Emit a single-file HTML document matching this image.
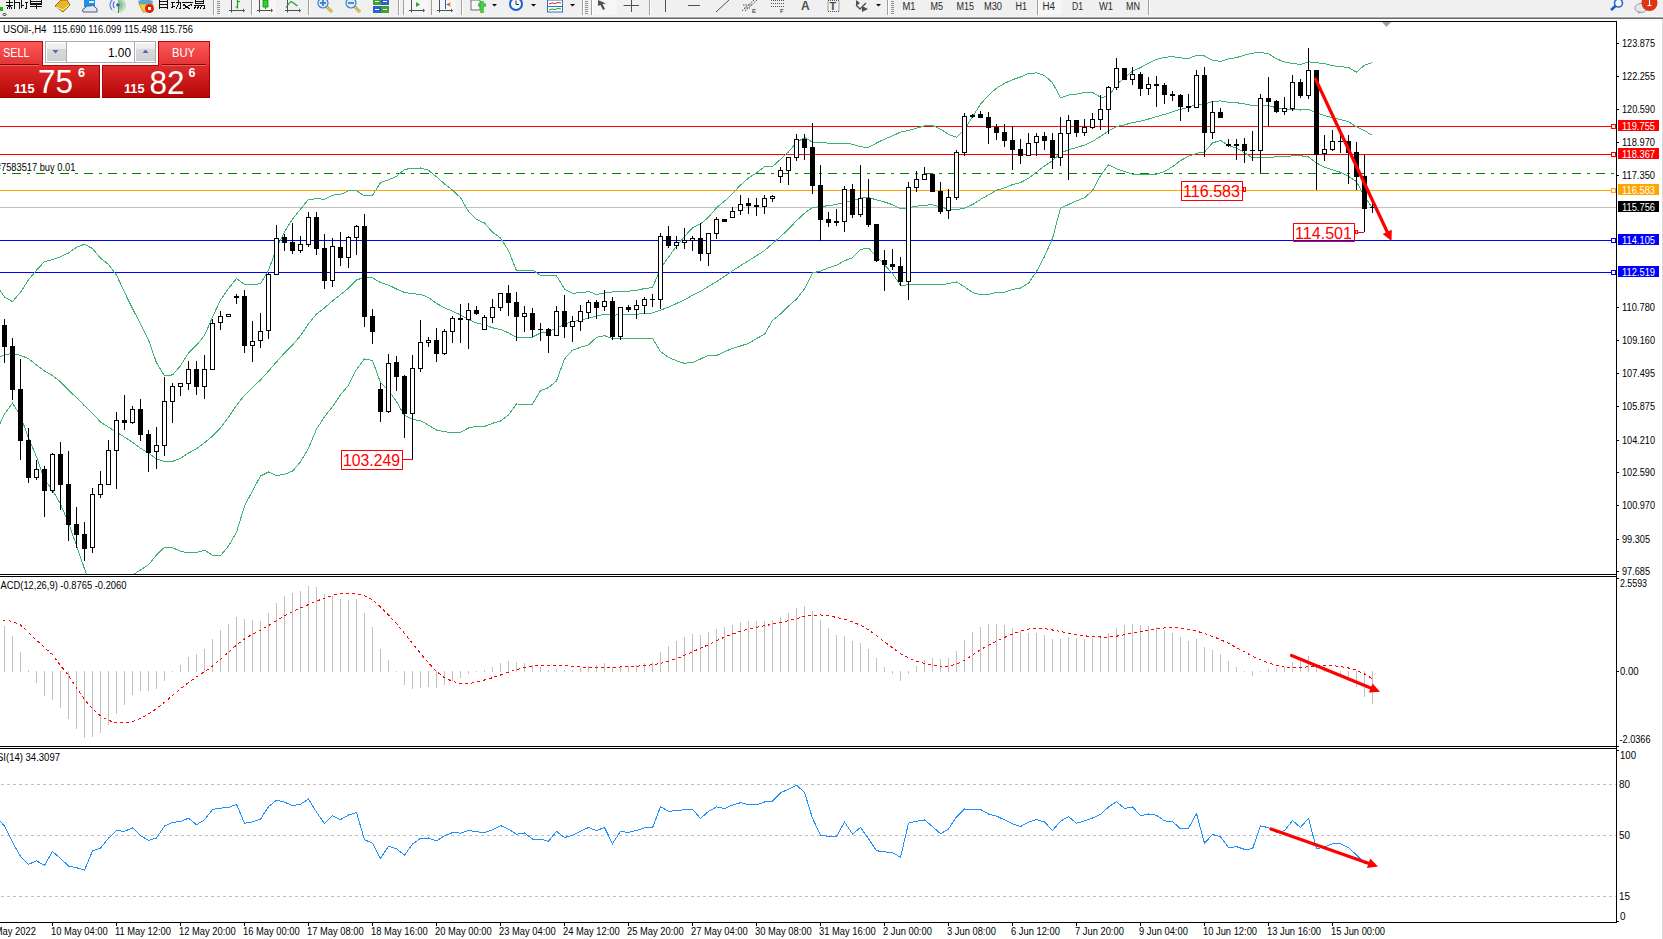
<!DOCTYPE html><html><head><meta charset='utf-8'><style>
html,body{margin:0;padding:0;background:#fff;width:1663px;height:939px;overflow:hidden}
svg{display:block}
text{font-family:'Liberation Sans',sans-serif}
</style></head><body>
<svg width='1663' height='939' viewBox='0 0 1663 939'>
<defs>
<clipPath id='main'><rect x='0' y='22' width='1616' height='552'/></clipPath>
<clipPath id='macd'><rect x='0' y='577' width='1616' height='169'/></clipPath>
<clipPath id='rsi'><rect x='0' y='749' width='1616' height='173'/></clipPath>
<linearGradient id='tabg' x1='0' y1='0' x2='0' y2='1'><stop offset='0' stop-color='#ff5a5a'/><stop offset='1' stop-color='#e23434'/></linearGradient>
<linearGradient id='boxg' x1='0' y1='0' x2='0' y2='1'><stop offset='0' stop-color='#e02c2c'/><stop offset='1' stop-color='#b40606'/></linearGradient>
<linearGradient id='btng' x1='0' y1='0' x2='0' y2='1'><stop offset='0' stop-color='#f2f2f2'/><stop offset='0.35' stop-color='#ebebeb'/><stop offset='0.36' stop-color='#d9d9d9'/><stop offset='1' stop-color='#d0d0d0'/></linearGradient>
</defs>
<rect x='0' y='0' width='1663' height='17' fill='#f0f0f0'/>
<rect x='0' y='16' width='1663' height='1' fill='#f5f5f5'/>
<rect x='0' y='17' width='1663' height='1' fill='#a6a6a6'/>
<rect x='0' y='18' width='1663' height='1' fill='#6a6a6a'/>
<rect x='0' y='19' width='1663' height='2' fill='#fbfbfb'/>
<rect x='0' y='21' width='1617' height='1' fill='#000'/>
<rect x='1662' y='19' width='1' height='920' fill='#d8d8d8'/>
<rect x='0' y='7' width='3' height='4' fill='#10c010'/>
<path d='M4.5 13 L6 14.5 L4.5 16 L3 14.5 Z' fill='none' stroke='#000' stroke-width='0.9'/>
<g stroke='#101010' stroke-width='1' fill='none' shape-rendering='crispEdges'><path d='M6 2.5 H13 M6 5.5 H13 M9.5 0 V9 M7 8.5 L9 6 M12 8.5 L10 6'/><path d='M13.5 2.5 H20 M14.5 0 V8.5 M19.5 2.5 V8.5'/><path d='M21.5 0 V8 M22 5 L24 6 M25 2.5 H28 M26.5 2.5 V8.5 H24.5'/><path d='M30.5 0 V4.5 H41.5 V0 M30.5 1.5 H41.5 M30.5 3 H41.5 M30 6.5 H42 M36 4.5 V9'/></g>
<path d='M55 6 L61 0 L67 0 L70 5 L63 12 Z' fill='#e8b52a' stroke='#9a6a10' stroke-width='1'/>
<path d='M56 7 L63 10 L69 5' fill='none' stroke='#fff3b0' stroke-width='1'/>
<rect x='84' y='0' width='11' height='7' fill='#1e90ea'/>
<rect x='89' y='1' width='5' height='2' fill='#d8eefc'/>
<path d='M83 12 Q81 9 85 8 Q86 5 90 6 Q93 4 95 7 Q98 8 97 12 Z' fill='#e2e8f2' stroke='#4a5a90' stroke-width='1'/>
<circle cx='118' cy='5' r='7.5' fill='none' stroke='#c8d8f0' stroke-width='1'/>
<path d='M118 -2.5 A7.5 7.5 0 0 1 118 12.5 Z' fill='#b8dcb8'/>
<path d='M118 0 A5 5 0 0 1 118 10 Z' fill='#90c890'/>
<g fill='none' stroke-width='1.1'><path d='M112 10 A7.5 7.5 0 0 1 113 -1' stroke='#5a86e0'/><path d='M114.5 8 A4.5 4.5 0 0 1 114.5 1.5' stroke='#3a6ad8'/></g>
<circle cx='118' cy='5' r='1.8' fill='#2a5ad0'/>
<rect x='118' y='5' width='1' height='8' fill='#20a020'/>
<path d='M138 1 Q145 -2 153 1 L152 4 Q145 6 139 4 Z' fill='#5aa8d8'/>
<path d='M139 4 L153 4 L147 12 L143 12 Z' fill='#f0d040' stroke='#c09020' stroke-width='0.8'/>
<circle cx='149.5' cy='8.5' r='4.5' fill='#e02010'/>
<rect x='148' y='7' width='3' height='3' fill='#fff'/>
<g stroke='#101010' stroke-width='1' fill='none' shape-rendering='crispEdges'><path d='M159.5 0 V9 M167.5 0 V9 M159.5 1.5 H167.5 M159.5 4.5 H167.5 M159.5 7.5 H167.5'/><path d='M171 2.5 H175 M171 8 L175 6 M173 3 L172 7 M176 2.5 H181 M180.5 2.5 V8.5 H179 M178 0 V5 L176 9'/><path d='M182 2.5 H193 M184.5 4 L183 6 M190.5 4 L192 6 M184 5 L190 9 M190 5 L183 9'/><path d='M195.5 0 V3.5 H203.5 V0 M195.5 1.5 H203.5 M194 5 H204 V8.5 H202.5 M197 5 L194 9 M199.5 5 L197 9 M202 5 L200 9'/></g>
<g shape-rendering='crispEdges'>
<rect x='213' y='0' width='1' height='15' fill='#a0a0a0'/><rect x='214' y='0' width='1' height='15' fill='#ffffff'/>
<rect x='217' y='1' width='3' height='1' fill='#909090'/>
<rect x='217' y='3' width='3' height='1' fill='#909090'/>
<rect x='217' y='5' width='3' height='1' fill='#909090'/>
<rect x='217' y='7' width='3' height='1' fill='#909090'/>
<rect x='217' y='9' width='3' height='1' fill='#909090'/>
<rect x='217' y='11' width='3' height='1' fill='#909090'/>
<rect x='217' y='13' width='3' height='1' fill='#909090'/>
<rect x='251' y='0' width='1' height='15' fill='#a0a0a0'/><rect x='252' y='0' width='1' height='15' fill='#ffffff'/>
<rect x='308' y='0' width='1' height='15' fill='#a0a0a0'/><rect x='309' y='0' width='1' height='15' fill='#ffffff'/>
<rect x='398' y='0' width='1' height='15' fill='#a0a0a0'/><rect x='399' y='0' width='1' height='15' fill='#ffffff'/>
<rect x='403' y='0' width='1' height='15' fill='#a0a0a0'/><rect x='404' y='0' width='1' height='15' fill='#ffffff'/>
<rect x='431' y='0' width='1' height='15' fill='#a0a0a0'/><rect x='432' y='0' width='1' height='15' fill='#ffffff'/>
<rect x='461' y='0' width='1' height='15' fill='#a0a0a0'/><rect x='462' y='0' width='1' height='15' fill='#ffffff'/>
<rect x='582' y='0' width='1' height='15' fill='#a0a0a0'/><rect x='583' y='0' width='1' height='15' fill='#ffffff'/>
<rect x='585' y='1' width='3' height='1' fill='#909090'/>
<rect x='585' y='3' width='3' height='1' fill='#909090'/>
<rect x='585' y='5' width='3' height='1' fill='#909090'/>
<rect x='585' y='7' width='3' height='1' fill='#909090'/>
<rect x='585' y='9' width='3' height='1' fill='#909090'/>
<rect x='585' y='11' width='3' height='1' fill='#909090'/>
<rect x='585' y='13' width='3' height='1' fill='#909090'/>
<rect x='591' y='0' width='1' height='15' fill='#a0a0a0'/><rect x='592' y='0' width='1' height='15' fill='#ffffff'/>
<rect x='649' y='0' width='1' height='15' fill='#a0a0a0'/><rect x='650' y='0' width='1' height='15' fill='#ffffff'/>
<rect x='887' y='0' width='1' height='15' fill='#a0a0a0'/><rect x='888' y='0' width='1' height='15' fill='#ffffff'/>
<rect x='891' y='1' width='3' height='1' fill='#909090'/>
<rect x='891' y='3' width='3' height='1' fill='#909090'/>
<rect x='891' y='5' width='3' height='1' fill='#909090'/>
<rect x='891' y='7' width='3' height='1' fill='#909090'/>
<rect x='891' y='9' width='3' height='1' fill='#909090'/>
<rect x='891' y='11' width='3' height='1' fill='#909090'/>
<rect x='891' y='13' width='3' height='1' fill='#909090'/>
<rect x='1037' y='0' width='1' height='15' fill='#a0a0a0'/><rect x='1038' y='0' width='1' height='15' fill='#ffffff'/>
<rect x='1148' y='0' width='1' height='15' fill='#a0a0a0'/><rect x='1149' y='0' width='1' height='15' fill='#ffffff'/>
<rect x='253' y='0' width='23' height='15' fill='#f6f6f6'/>
<rect x='404' y='0' width='24' height='15' fill='#f6f6f6'/>
<rect x='432' y='0' width='24' height='15' fill='#f6f6f6'/>
<rect x='593' y='0' width='24' height='15' fill='#f6f6f6'/>
<rect x='1039' y='0' width='23' height='15' fill='#f6f6f6'/>
</g>
<g stroke='#505050' stroke-width='1' fill='none'><path d='M231.5 0 V12.5 M229 10.5 H243'/></g><path d='M243 8.5 L245 10.5 L243 12.5 Z' fill='#505050'/>
<path d='M237.5 0 V8.5 M235.5 7 H237.5 M237.5 1.5 H240' stroke='#10a010' fill='none' stroke-width='1.2'/>
<g stroke='#505050' stroke-width='1' fill='none'><path d='M259.5 0 V12.5 M257 10.5 H271'/></g><path d='M271 8.5 L273 10.5 L271 12.5 Z' fill='#505050'/>
<rect x='263' y='0' width='5' height='7' fill='#30d030' stroke='#109010' stroke-width='0.8'/><rect x='265' y='7' width='1' height='2' fill='#109010'/>
<g stroke='#505050' stroke-width='1' fill='none'><path d='M287.5 0 V12.5 M285 10.5 H299'/></g><path d='M299 8.5 L301 10.5 L299 12.5 Z' fill='#505050'/>
<path d='M286 7.5 Q291 0 292 2 Q295 4 297.5 6' stroke='#20a020' fill='none' stroke-width='1.2'/>
<line x1='327' y1='7' x2='332' y2='12' stroke='#b08a10' stroke-width='2.6'/>
<line x1='327' y1='7' x2='332' y2='12' stroke='#f0d860' stroke-width='1.2'/>
<circle cx='323' cy='3' r='5' fill='#d8ecfa' stroke='#3a80d0' stroke-width='1.2'/>
<rect x='320' y='2.2' width='6' height='1.6' fill='#3a70c0'/>
<rect x='322.2' y='0' width='1.6' height='6' fill='#3a70c0'/>
<line x1='355' y1='7' x2='360' y2='12' stroke='#b08a10' stroke-width='2.6'/>
<line x1='355' y1='7' x2='360' y2='12' stroke='#f0d860' stroke-width='1.2'/>
<circle cx='351' cy='3' r='5' fill='#d8ecfa' stroke='#3a80d0' stroke-width='1.2'/>
<rect x='348' y='2.2' width='6' height='1.6' fill='#3a70c0'/>
<g shape-rendering='crispEdges'><rect x='373' y='0' width='7.5' height='5' fill='#40a030'/><rect x='381' y='0' width='8' height='5' fill='#3060d0'/><rect x='373' y='6' width='7.5' height='7' fill='#3060d0'/><rect x='381' y='6' width='8' height='7' fill='#40a030'/><rect x='375' y='1' width='4' height='1' fill='#fff'/><rect x='383' y='1' width='4' height='1' fill='#fff'/><rect x='375' y='9' width='4' height='1' fill='#fff'/><rect x='383' y='9' width='4' height='1' fill='#fff'/></g>
<g stroke='#505050' stroke-width='1' fill='none'><path d='M411.5 0 V12.5 M409 10.5 H423'/></g><path d='M423 8.5 L425 10.5 L423 12.5 Z' fill='#505050'/>
<path d='M416 2 L420 4.5 L416 7 Z' fill='#20b020'/>
<g stroke='#505050' stroke-width='1' fill='none'><path d='M439.5 0 V12.5 M437 10.5 H451'/></g><path d='M451 8.5 L453 10.5 L451 12.5 Z' fill='#505050'/>
<rect x='445' y='0' width='1' height='9' fill='#2060b0'/><path d='M446 4.5 L451 2.5 L449.5 4.5 L451 6.5 Z' fill='#e04010'/>
<rect x='471' y='0' width='9' height='10' fill='#f8f8f8' stroke='#707070' stroke-width='1'/>
<path d='M478 5 H486 M482 1 V13' stroke='#10b010' stroke-width='3.2'/>
<path d='M478 5 H486 M482 1 V13' stroke='#60e060' stroke-width='1.2'/>
<path d='M492 4 L497 4 L494.5 6.5 Z' fill='#000'/>
<path d='M531 4 L536 4 L533.5 6.5 Z' fill='#000'/>
<path d='M570 4 L575 4 L572.5 6.5 Z' fill='#000'/>
<path d='M876 4 L881 4 L878.5 6.5 Z' fill='#000'/>
<circle cx='516' cy='4' r='7' fill='#1a66c8'/><circle cx='516' cy='4' r='5' fill='#f4f8fc'/>
<path d='M516 0.5 V4.5 H519' stroke='#333' stroke-width='1' fill='none'/>
<rect x='547.5' y='0' width='15' height='12' fill='#fff' stroke='#3070c0' stroke-width='1'/>
<rect x='548' y='6' width='14' height='1' fill='#3070c0'/>
<path d='M549 4 L552 3 L555 3.5 L558 2.5 L561 3' stroke='#c03020' fill='none' stroke-width='1'/>
<path d='M549 10 L552 9 L555 9.5 L558 8.5 L561 9' stroke='#20a020' fill='none' stroke-width='1'/>
<path d='M598 0 L598 6 L600.5 5 L603 10 L605 9 L602.5 4 L606 3.5 Z' fill='#505050'/>
<path d='M623.5 5.5 H639 M631.5 0 V12' stroke='#505050' stroke-width='1' fill='none'/>
<g stroke='#505050' stroke-width='1' fill='none'><path d='M665.5 0 V12 M688 5.5 H700 M716 12 L729 0'/><path d='M742 11 L754 0 M745 11 L757 0 M743 5 L752 5 M744 8 L750 8' stroke-dasharray='1.5 1'/><path d='M771 0.5 H785 M771 3.5 H785 M771 6.5 H785' stroke-dasharray='1 1'/><rect x='828' y='0.5' width='11' height='11' stroke-dasharray='1 1'/></g>
<text x='752' y='13' font-size='6' font-weight='bold' fill='#505050' font-family="'Liberation Sans',sans-serif">E</text>
<text x='780' y='13' font-size='6' font-weight='bold' fill='#505050' font-family="'Liberation Sans',sans-serif">F</text>
<text x='801' y='10' font-size='12' font-weight='bold' fill='#505050' font-family="'Liberation Sans',sans-serif">A</text>
<text x='829.5' y='10' font-size='11' font-weight='bold' fill='#505050' font-family="'Liberation Sans',sans-serif">T</text>
<path d='M856 0 L860 3 L856 6 Z M862 6 L868 9 L862 12 Z' fill='#505050'/>
<path d='M856 5 L860 9 L866 3' stroke='#505050' fill='none' stroke-width='1.4'/>
<circle cx='1618.5' cy='3' r='4' fill='#f4f8ff' stroke='#2a68d0' stroke-width='1.6'/>
<line x1='1615.5' y1='6' x2='1611' y2='10' stroke='#1a58c8' stroke-width='2.4'/>
<ellipse cx='1641' cy='8' rx='6' ry='4.5' fill='#e4e6ee' stroke='#9a9a9a' stroke-width='1'/>
<path d='M1638 11.5 L1638.5 14 L1641 12' fill='#9a9a9a'/>
<circle cx='1649.5' cy='3' r='8' fill='#dd3414'/>
<path d='M1649.5 -3 V5.5 M1647.5 5.5 H1651.5 M1648 -1.5 L1649.5 -3' stroke='#fff' stroke-width='1.1' fill='none'/>
<text x='902.5' y='9.5' font-size='10' fill='#2a2a2a' textLength='13.00' lengthAdjust='spacingAndGlyphs' text-anchor='start' font-family="'Liberation Sans',sans-serif">M1</text>
<text x='930.5' y='9.5' font-size='10' fill='#2a2a2a' textLength='12.50' lengthAdjust='spacingAndGlyphs' text-anchor='start' font-family="'Liberation Sans',sans-serif">M5</text>
<text x='956.5' y='9.5' font-size='10' fill='#2a2a2a' textLength='17.50' lengthAdjust='spacingAndGlyphs' text-anchor='start' font-family="'Liberation Sans',sans-serif">M15</text>
<text x='984' y='9.5' font-size='10' fill='#2a2a2a' textLength='18.00' lengthAdjust='spacingAndGlyphs' text-anchor='start' font-family="'Liberation Sans',sans-serif">M30</text>
<text x='1015.5' y='9.5' font-size='10' fill='#2a2a2a' textLength='11.50' lengthAdjust='spacingAndGlyphs' text-anchor='start' font-family="'Liberation Sans',sans-serif">H1</text>
<text x='1042.5' y='9.5' font-size='10' fill='#2a2a2a' textLength='12.50' lengthAdjust='spacingAndGlyphs' text-anchor='start' font-family="'Liberation Sans',sans-serif">H4</text>
<text x='1072' y='9.5' font-size='10' fill='#2a2a2a' textLength='11.00' lengthAdjust='spacingAndGlyphs' text-anchor='start' font-family="'Liberation Sans',sans-serif">D1</text>
<text x='1099' y='9.5' font-size='10' fill='#2a2a2a' textLength='14.00' lengthAdjust='spacingAndGlyphs' text-anchor='start' font-family="'Liberation Sans',sans-serif">W1</text>
<text x='1126' y='9.5' font-size='10' fill='#2a2a2a' textLength='14.00' lengthAdjust='spacingAndGlyphs' text-anchor='start' font-family="'Liberation Sans',sans-serif">MN</text>
<rect x='0' y='574' width='1617' height='1' fill='#000'/>
<rect x='0' y='576' width='1617' height='1' fill='#000'/>
<rect x='0' y='746' width='1617' height='1' fill='#000'/>
<rect x='0' y='748' width='1617' height='1' fill='#000'/>
<rect x='0' y='922' width='1617' height='1' fill='#000'/>
<rect x='1616' y='21' width='1' height='902' fill='#000'/>
<g clip-path='url(#main)' shape-rendering='crispEdges'>
<rect x='0' y='126' width='1616' height='1' fill='#ff0000'/>
<rect x='0' y='154' width='1616' height='1' fill='#ff0000'/>
<line x1='0' y1='173.5' x2='1616' y2='173.5' stroke='#008000' stroke-width='1' stroke-dasharray='9 6 3 6' stroke-dashoffset='12'/>
<rect x='0' y='190' width='1616' height='1' fill='#ffa500'/>
<rect x='0' y='207' width='1616' height='1' fill='#c0c0c0'/>
<rect x='0' y='240' width='1616' height='1' fill='#0000ff'/>
<rect x='0' y='272' width='1616' height='1' fill='#0000ff'/>
</g>
<polygon points='1382,22 1391,22 1386.5,27' fill='#a0a0a0'/>
<g clip-path='url(#main)'>
<polyline points='-3.5,285.0 4.5,297.0 12.5,301.5 20.5,292.3 28.5,279.8 36.5,270.2 44.5,261.6 52.5,259.7 60.5,256.8 68.5,253.0 76.5,247.2 84.5,244.3 92.5,248.6 100.5,258.1 108.5,264.5 116.5,275.0 124.5,292.3 132.5,308.6 140.5,323.9 148.5,340.0 156.5,362.8 164.5,375.8 172.5,374.9 180.5,365.8 188.5,353.0 196.5,345.2 204.5,335.5 212.5,317.1 220.5,300.0 228.5,288.5 236.5,278.5 244.5,284.5 252.5,284.3 260.5,283.9 268.5,270.3 276.5,248.4 284.5,231.8 292.5,219.0 300.5,209.2 308.5,199.4 316.5,198.8 324.5,199.2 332.5,195.2 340.5,194.4 348.5,190.9 356.5,190.7 364.5,195.9 372.5,195.3 380.5,182.6 388.5,179.8 396.5,176.4 404.5,169.5 412.5,168.2 420.5,168.0 428.5,170.2 436.5,176.8 444.5,183.9 452.5,190.0 460.5,197.7 468.5,211.3 476.5,219.5 484.5,223.0 492.5,232.2 500.5,238.0 508.5,250.6 516.5,270.7 524.5,270.2 532.5,270.1 540.5,275.4 548.5,275.7 556.5,275.8 564.5,289.1 572.5,293.1 580.5,292.9 588.5,291.5 596.5,294.4 604.5,293.1 612.5,291.9 620.5,291.2 628.5,291.2 636.5,290.3 644.5,288.6 652.5,287.5 660.5,268.6 668.5,257.1 676.5,246.2 684.5,236.4 692.5,228.0 700.5,223.8 708.5,217.3 716.5,207.8 724.5,201.2 732.5,193.5 740.5,185.1 748.5,178.1 756.5,172.8 764.5,166.8 772.5,166.6 780.5,159.3 788.5,151.9 796.5,142.5 804.5,137.5 812.5,142.1 820.5,142.3 828.5,143.2 836.5,144.0 844.5,143.3 852.5,144.2 860.5,146.8 868.5,147.4 876.5,143.0 884.5,139.1 892.5,135.9 900.5,132.1 908.5,130.5 916.5,128.2 924.5,125.8 932.5,125.5 940.5,129.1 948.5,134.4 956.5,137.3 964.5,129.3 972.5,116.8 980.5,104.2 988.5,95.2 996.5,88.1 1004.5,83.4 1012.5,79.7 1020.5,77.0 1028.5,73.5 1036.5,72.9 1044.5,75.5 1052.5,82.7 1060.5,97.9 1068.5,95.1 1076.5,94.1 1084.5,92.5 1092.5,92.4 1100.5,97.2 1108.5,96.8 1116.5,84.5 1124.5,78.1 1132.5,71.1 1140.5,67.6 1148.5,63.1 1156.5,59.4 1164.5,57.4 1172.5,56.6 1180.5,57.9 1188.5,58.5 1196.5,55.4 1204.5,56.0 1212.5,60.3 1220.5,61.4 1228.5,58.8 1236.5,57.6 1244.5,55.2 1252.5,53.1 1260.5,52.5 1268.5,53.8 1276.5,58.8 1284.5,62.0 1292.5,63.5 1300.5,64.4 1308.5,61.8 1316.5,62.7 1324.5,63.7 1332.5,65.7 1340.5,66.7 1348.5,67.5 1356.5,72.1 1364.5,65.3 1372.5,62.6' fill='none' stroke='#3cb371' stroke-width='1' shape-rendering='crispEdges' />
<polyline points='-3.5,358.8 4.5,355.0 12.5,353.4 20.5,355.3 28.5,358.7 36.5,365.0 44.5,371.0 52.5,375.6 60.5,381.8 68.5,390.2 76.5,397.5 84.5,405.8 92.5,413.2 100.5,422.0 108.5,427.2 116.5,432.0 124.5,437.2 132.5,442.2 140.5,448.3 148.5,453.1 156.5,458.9 164.5,461.6 172.5,461.4 180.5,458.4 188.5,453.0 196.5,448.9 204.5,442.8 212.5,436.2 220.5,427.8 228.5,417.2 236.5,405.4 244.5,395.2 252.5,387.6 260.5,379.9 268.5,371.1 276.5,362.0 284.5,353.0 292.5,345.1 300.5,335.6 308.5,323.8 316.5,313.9 324.5,307.9 332.5,300.9 340.5,294.7 348.5,288.1 356.5,280.0 364.5,277.4 372.5,277.8 380.5,282.6 388.5,285.1 396.5,289.0 404.5,292.4 412.5,293.8 420.5,294.3 428.5,297.6 436.5,303.4 444.5,307.8 452.5,311.2 460.5,315.0 468.5,319.6 476.5,322.9 484.5,324.7 492.5,327.8 500.5,329.5 508.5,332.8 516.5,337.4 524.5,337.2 532.5,337.1 540.5,333.0 548.5,331.6 556.5,328.3 564.5,324.0 572.5,321.6 580.5,320.1 588.5,318.2 596.5,315.9 604.5,314.4 612.5,315.3 620.5,314.7 628.5,314.7 636.5,314.3 644.5,313.4 652.5,313.0 660.5,310.1 668.5,307.2 676.5,303.5 684.5,299.9 692.5,295.2 700.5,291.4 708.5,286.3 716.5,281.7 724.5,276.4 732.5,270.9 740.5,265.6 748.5,260.8 756.5,255.7 764.5,250.6 772.5,243.5 780.5,236.7 788.5,229.0 796.5,220.7 804.5,213.2 812.5,207.5 820.5,206.7 828.5,205.6 836.5,204.6 844.5,202.1 852.5,200.9 860.5,198.1 868.5,197.7 876.5,199.8 884.5,202.0 892.5,204.7 900.5,208.7 908.5,207.7 916.5,206.3 924.5,205.1 932.5,204.9 940.5,207.0 948.5,209.0 956.5,209.7 964.5,208.1 972.5,204.6 980.5,199.5 988.5,194.8 996.5,190.3 1004.5,187.9 1012.5,184.6 1020.5,182.5 1028.5,178.4 1036.5,172.2 1044.5,166.0 1052.5,160.6 1060.5,153.1 1068.5,149.8 1076.5,147.5 1084.5,145.1 1092.5,141.5 1100.5,136.3 1108.5,130.9 1116.5,126.7 1124.5,124.8 1132.5,122.7 1140.5,121.2 1148.5,119.0 1156.5,116.7 1164.5,114.4 1172.5,111.7 1180.5,109.3 1188.5,107.4 1196.5,104.3 1204.5,104.0 1212.5,101.7 1220.5,100.9 1228.5,102.2 1236.5,102.7 1244.5,103.9 1252.5,105.5 1260.5,104.9 1268.5,105.7 1276.5,107.8 1284.5,109.3 1292.5,109.7 1300.5,110.0 1308.5,109.4 1316.5,112.8 1324.5,115.5 1332.5,117.8 1340.5,119.5 1348.5,121.8 1356.5,126.9 1364.5,130.7 1372.5,135.5' fill='none' stroke='#3cb371' stroke-width='1' shape-rendering='crispEdges' />
<polyline points='-3.5,431.0 4.5,413.8 12.5,403.3 20.5,415.7 28.5,437.8 36.5,456.9 44.5,479.5 52.5,490.2 60.5,504.0 68.5,523.0 76.5,545.4 84.5,569.0 92.5,590.0 100.5,600.0 108.5,600.0 116.5,595.0 124.5,585.0 132.5,575.0 140.5,570.0 148.5,564.9 156.5,554.9 164.5,547.3 172.5,547.8 180.5,551.1 188.5,553.0 196.5,552.6 204.5,550.1 212.5,555.4 220.5,555.6 228.5,546.0 236.5,532.3 244.5,506.0 252.5,490.9 260.5,476.0 268.5,472.0 276.5,475.7 284.5,474.2 292.5,471.2 300.5,461.9 308.5,448.1 316.5,429.1 324.5,416.7 332.5,406.6 340.5,394.9 348.5,385.2 356.5,369.4 364.5,359.0 372.5,360.4 380.5,382.7 388.5,390.4 396.5,401.6 404.5,415.4 412.5,419.4 420.5,420.7 428.5,425.1 436.5,430.0 444.5,431.8 452.5,432.4 460.5,432.2 468.5,428.0 476.5,426.3 484.5,426.4 492.5,423.3 500.5,421.0 508.5,415.0 516.5,404.0 524.5,404.1 532.5,404.1 540.5,390.6 548.5,387.6 556.5,380.9 564.5,358.9 572.5,350.1 580.5,347.3 588.5,344.8 596.5,337.4 604.5,335.6 612.5,338.7 620.5,338.3 628.5,338.3 636.5,338.2 644.5,338.1 652.5,338.4 660.5,351.6 668.5,357.4 676.5,360.8 684.5,363.3 692.5,362.5 700.5,359.0 708.5,355.2 716.5,355.5 724.5,351.7 732.5,348.4 740.5,346.0 748.5,343.4 756.5,338.6 764.5,334.3 772.5,320.4 780.5,314.0 788.5,306.1 796.5,299.0 804.5,288.9 812.5,272.9 820.5,271.1 828.5,267.9 836.5,265.3 844.5,260.8 852.5,257.7 860.5,249.5 868.5,248.1 876.5,256.6 884.5,264.8 892.5,273.6 900.5,285.2 908.5,284.9 916.5,284.5 924.5,284.5 932.5,284.4 940.5,284.9 948.5,283.6 956.5,282.0 964.5,286.8 972.5,292.5 980.5,294.8 988.5,294.3 996.5,292.5 1004.5,292.3 1012.5,289.6 1020.5,288.0 1028.5,283.3 1036.5,271.5 1044.5,256.5 1052.5,238.4 1060.5,208.3 1068.5,204.5 1076.5,200.9 1084.5,197.8 1092.5,190.6 1100.5,175.5 1108.5,164.9 1116.5,168.8 1124.5,171.5 1132.5,174.3 1140.5,174.9 1148.5,175.0 1156.5,174.1 1164.5,171.4 1172.5,166.8 1180.5,160.6 1188.5,156.3 1196.5,153.3 1204.5,151.9 1212.5,143.0 1220.5,140.4 1228.5,145.6 1236.5,147.9 1244.5,152.7 1252.5,157.9 1260.5,157.4 1268.5,157.5 1276.5,156.8 1284.5,156.5 1292.5,155.9 1300.5,155.7 1308.5,156.9 1316.5,162.9 1324.5,167.3 1332.5,169.9 1340.5,172.3 1348.5,176.2 1356.5,181.8 1364.5,196.1 1372.5,208.4' fill='none' stroke='#3cb371' stroke-width='1' shape-rendering='crispEdges' />
</g>
<g clip-path='url(#main)' shape-rendering='crispEdges'>
<rect x='4' y='319' width='1' height='44' fill='#000'/>
<rect x='2' y='325' width='5' height='22' fill='#000'/>
<rect x='12' y='338' width='1' height='62' fill='#000'/>
<rect x='10' y='346' width='5' height='44' fill='#000'/>
<rect x='20' y='359' width='1' height='101' fill='#000'/>
<rect x='18' y='389' width='5' height='52' fill='#000'/>
<rect x='28' y='428' width='1' height='55' fill='#000'/>
<rect x='26' y='440' width='5' height='38' fill='#000'/>
<rect x='36' y='460' width='1' height='20' fill='#000'/>
<rect x='34.5' y='469.5' width='4' height='8' fill='#fff' stroke='#000' stroke-width='1'/>
<rect x='44' y='466' width='1' height='51' fill='#000'/>
<rect x='42' y='469' width='5' height='22' fill='#000'/>
<rect x='52' y='453' width='1' height='40' fill='#000'/>
<rect x='50.5' y='454.5' width='4' height='36' fill='#fff' stroke='#000' stroke-width='1'/>
<rect x='60' y='442' width='1' height='68' fill='#000'/>
<rect x='58' y='454' width='5' height='31' fill='#000'/>
<rect x='68' y='451' width='1' height='90' fill='#000'/>
<rect x='66' y='484' width='5' height='41' fill='#000'/>
<rect x='76' y='507' width='1' height='41' fill='#000'/>
<rect x='74' y='524' width='5' height='11' fill='#000'/>
<rect x='84' y='522' width='1' height='39' fill='#000'/>
<rect x='82' y='534' width='5' height='15' fill='#000'/>
<rect x='92' y='488' width='1' height='65' fill='#000'/>
<rect x='90.5' y='494.5' width='4' height='53' fill='#fff' stroke='#000' stroke-width='1'/>
<rect x='100' y='471' width='1' height='27' fill='#000'/>
<rect x='98.5' y='484.5' width='4' height='10' fill='#fff' stroke='#000' stroke-width='1'/>
<rect x='108' y='440' width='1' height='45' fill='#000'/>
<rect x='106.5' y='450.5' width='4' height='34' fill='#fff' stroke='#000' stroke-width='1'/>
<rect x='116' y='412' width='1' height='77' fill='#000'/>
<rect x='114.5' y='420.5' width='4' height='30' fill='#fff' stroke='#000' stroke-width='1'/>
<rect x='124' y='395' width='1' height='35' fill='#000'/>
<rect x='122' y='420' width='5' height='3' fill='#000'/>
<rect x='132' y='406' width='1' height='18' fill='#000'/>
<rect x='130.5' y='409.5' width='4' height='13' fill='#fff' stroke='#000' stroke-width='1'/>
<rect x='140' y='399' width='1' height='42' fill='#000'/>
<rect x='138' y='409' width='5' height='26' fill='#000'/>
<rect x='148' y='430' width='1' height='42' fill='#000'/>
<rect x='146' y='434' width='5' height='19' fill='#000'/>
<rect x='156' y='427' width='1' height='42' fill='#000'/>
<rect x='154.5' y='445.5' width='4' height='6' fill='#fff' stroke='#000' stroke-width='1'/>
<rect x='164' y='377' width='1' height='79' fill='#000'/>
<rect x='162.5' y='401.5' width='4' height='44' fill='#fff' stroke='#000' stroke-width='1'/>
<rect x='172' y='383' width='1' height='40' fill='#000'/>
<rect x='170.5' y='386.5' width='4' height='15' fill='#fff' stroke='#000' stroke-width='1'/>
<rect x='180' y='383' width='1' height='13' fill='#000'/>
<rect x='178.5' y='383.5' width='4' height='3' fill='#fff' stroke='#000' stroke-width='1'/>
<rect x='188' y='361' width='1' height='29' fill='#000'/>
<rect x='186.5' y='369.5' width='4' height='14' fill='#fff' stroke='#000' stroke-width='1'/>
<rect x='196' y='361' width='1' height='34' fill='#000'/>
<rect x='194' y='369' width='5' height='18' fill='#000'/>
<rect x='204' y='355' width='1' height='44' fill='#000'/>
<rect x='202.5' y='369.5' width='4' height='17' fill='#fff' stroke='#000' stroke-width='1'/>
<rect x='212' y='319' width='1' height='51' fill='#000'/>
<rect x='210.5' y='323.5' width='4' height='46' fill='#fff' stroke='#000' stroke-width='1'/>
<rect x='220' y='311' width='1' height='19' fill='#000'/>
<rect x='218.5' y='316.5' width='4' height='6' fill='#fff' stroke='#000' stroke-width='1'/>
<rect x='228' y='314' width='1' height='3' fill='#000'/>
<rect x='226.5' y='314.5' width='4' height='2' fill='#fff' stroke='#000' stroke-width='1'/>
<rect x='236' y='294' width='1' height='10' fill='#000'/>
<rect x='234' y='296' width='5' height='2' fill='#000'/>
<rect x='244' y='290' width='1' height='63' fill='#000'/>
<rect x='242' y='296' width='5' height='50' fill='#000'/>
<rect x='252' y='321' width='1' height='41' fill='#000'/>
<rect x='250.5' y='341.5' width='4' height='4' fill='#fff' stroke='#000' stroke-width='1'/>
<rect x='260' y='313' width='1' height='35' fill='#000'/>
<rect x='258.5' y='331.5' width='4' height='9' fill='#fff' stroke='#000' stroke-width='1'/>
<rect x='268' y='273' width='1' height='66' fill='#000'/>
<rect x='266.5' y='274.5' width='4' height='56' fill='#fff' stroke='#000' stroke-width='1'/>
<rect x='276' y='225' width='1' height='50' fill='#000'/>
<rect x='274.5' y='238.5' width='4' height='36' fill='#fff' stroke='#000' stroke-width='1'/>
<rect x='284' y='234' width='1' height='17' fill='#000'/>
<rect x='282' y='237' width='5' height='6' fill='#000'/>
<rect x='292' y='223' width='1' height='31' fill='#000'/>
<rect x='290' y='242' width='5' height='9' fill='#000'/>
<rect x='300' y='236' width='1' height='17' fill='#000'/>
<rect x='298.5' y='244.5' width='4' height='6' fill='#fff' stroke='#000' stroke-width='1'/>
<rect x='308' y='212' width='1' height='35' fill='#000'/>
<rect x='306.5' y='217.5' width='4' height='27' fill='#fff' stroke='#000' stroke-width='1'/>
<rect x='316' y='212' width='1' height='43' fill='#000'/>
<rect x='314' y='217' width='5' height='32' fill='#000'/>
<rect x='324' y='234' width='1' height='55' fill='#000'/>
<rect x='322' y='248' width='5' height='33' fill='#000'/>
<rect x='332' y='238' width='1' height='49' fill='#000'/>
<rect x='330.5' y='246.5' width='4' height='34' fill='#fff' stroke='#000' stroke-width='1'/>
<rect x='340' y='232' width='1' height='34' fill='#000'/>
<rect x='338' y='247' width='5' height='11' fill='#000'/>
<rect x='348' y='236' width='1' height='32' fill='#000'/>
<rect x='346.5' y='237.5' width='4' height='20' fill='#fff' stroke='#000' stroke-width='1'/>
<rect x='356' y='225' width='1' height='30' fill='#000'/>
<rect x='354.5' y='226.5' width='4' height='11' fill='#fff' stroke='#000' stroke-width='1'/>
<rect x='364' y='214' width='1' height='113' fill='#000'/>
<rect x='362' y='226' width='5' height='91' fill='#000'/>
<rect x='372' y='309' width='1' height='35' fill='#000'/>
<rect x='370' y='316' width='5' height='16' fill='#000'/>
<rect x='380' y='383' width='1' height='39' fill='#000'/>
<rect x='378' y='389' width='5' height='23' fill='#000'/>
<rect x='388' y='354' width='1' height='59' fill='#000'/>
<rect x='386.5' y='363.5' width='4' height='48' fill='#fff' stroke='#000' stroke-width='1'/>
<rect x='396' y='356' width='1' height='35' fill='#000'/>
<rect x='394' y='362' width='5' height='15' fill='#000'/>
<rect x='404' y='375' width='1' height='63' fill='#000'/>
<rect x='402' y='376' width='5' height='38' fill='#000'/>
<rect x='412' y='355' width='1' height='104' fill='#000'/>
<rect x='410.5' y='368.5' width='4' height='45' fill='#fff' stroke='#000' stroke-width='1'/>
<rect x='420' y='320' width='1' height='52' fill='#000'/>
<rect x='418.5' y='342.5' width='4' height='26' fill='#fff' stroke='#000' stroke-width='1'/>
<rect x='428' y='337' width='1' height='10' fill='#000'/>
<rect x='426.5' y='340.5' width='4' height='2' fill='#fff' stroke='#000' stroke-width='1'/>
<rect x='436' y='328' width='1' height='34' fill='#000'/>
<rect x='434' y='340' width='5' height='14' fill='#000'/>
<rect x='444' y='329' width='1' height='26' fill='#000'/>
<rect x='442.5' y='331.5' width='4' height='22' fill='#fff' stroke='#000' stroke-width='1'/>
<rect x='452' y='316' width='1' height='27' fill='#000'/>
<rect x='450.5' y='318.5' width='4' height='13' fill='#fff' stroke='#000' stroke-width='1'/>
<rect x='460' y='304' width='1' height='39' fill='#000'/>
<rect x='458' y='318' width='5' height='2' fill='#000'/>
<rect x='468' y='303' width='1' height='46' fill='#000'/>
<rect x='466.5' y='310.5' width='4' height='9' fill='#fff' stroke='#000' stroke-width='1'/>
<rect x='476' y='306' width='1' height='9' fill='#000'/>
<rect x='474' y='310' width='5' height='4' fill='#000'/>
<rect x='484' y='315' width='1' height='15' fill='#000'/>
<rect x='482.5' y='317.5' width='4' height='12' fill='#fff' stroke='#000' stroke-width='1'/>
<rect x='492' y='299' width='1' height='24' fill='#000'/>
<rect x='490.5' y='307.5' width='4' height='10' fill='#fff' stroke='#000' stroke-width='1'/>
<rect x='500' y='293' width='1' height='18' fill='#000'/>
<rect x='498.5' y='293.5' width='4' height='14' fill='#fff' stroke='#000' stroke-width='1'/>
<rect x='508' y='285' width='1' height='31' fill='#000'/>
<rect x='506' y='293' width='5' height='10' fill='#000'/>
<rect x='516' y='292' width='1' height='49' fill='#000'/>
<rect x='514' y='302' width='5' height='15' fill='#000'/>
<rect x='524' y='306' width='1' height='26' fill='#000'/>
<rect x='522.5' y='313.5' width='4' height='3' fill='#fff' stroke='#000' stroke-width='1'/>
<rect x='532' y='308' width='1' height='29' fill='#000'/>
<rect x='530' y='313' width='5' height='17' fill='#000'/>
<rect x='540' y='323' width='1' height='18' fill='#000'/>
<rect x='538' y='329' width='5' height='1' fill='#000'/>
<rect x='548' y='328' width='1' height='25' fill='#000'/>
<rect x='546' y='329' width='5' height='7' fill='#000'/>
<rect x='556' y='306' width='1' height='30' fill='#000'/>
<rect x='554.5' y='311.5' width='4' height='24' fill='#fff' stroke='#000' stroke-width='1'/>
<rect x='564' y='295' width='1' height='43' fill='#000'/>
<rect x='562' y='311' width='5' height='16' fill='#000'/>
<rect x='572' y='316' width='1' height='26' fill='#000'/>
<rect x='570.5' y='321.5' width='4' height='5' fill='#fff' stroke='#000' stroke-width='1'/>
<rect x='580' y='305' width='1' height='26' fill='#000'/>
<rect x='578.5' y='311.5' width='4' height='10' fill='#fff' stroke='#000' stroke-width='1'/>
<rect x='588' y='300' width='1' height='19' fill='#000'/>
<rect x='586.5' y='302.5' width='4' height='10' fill='#fff' stroke='#000' stroke-width='1'/>
<rect x='596' y='300' width='1' height='19' fill='#000'/>
<rect x='594' y='302' width='5' height='6' fill='#000'/>
<rect x='604' y='290' width='1' height='21' fill='#000'/>
<rect x='602.5' y='301.5' width='4' height='5' fill='#fff' stroke='#000' stroke-width='1'/>
<rect x='612' y='297' width='1' height='43' fill='#000'/>
<rect x='610' y='301' width='5' height='36' fill='#000'/>
<rect x='620' y='307' width='1' height='33' fill='#000'/>
<rect x='618.5' y='307.5' width='4' height='29' fill='#fff' stroke='#000' stroke-width='1'/>
<rect x='628' y='305' width='1' height='7' fill='#000'/>
<rect x='626' y='307' width='5' height='3' fill='#000'/>
<rect x='636' y='300' width='1' height='19' fill='#000'/>
<rect x='634.5' y='305.5' width='4' height='4' fill='#fff' stroke='#000' stroke-width='1'/>
<rect x='644' y='297' width='1' height='17' fill='#000'/>
<rect x='642.5' y='299.5' width='4' height='6' fill='#fff' stroke='#000' stroke-width='1'/>
<rect x='652' y='294' width='1' height='13' fill='#000'/>
<rect x='650' y='299' width='5' height='1' fill='#000'/>
<rect x='660' y='233' width='1' height='76' fill='#000'/>
<rect x='658.5' y='236.5' width='4' height='63' fill='#fff' stroke='#000' stroke-width='1'/>
<rect x='668' y='226' width='1' height='22' fill='#000'/>
<rect x='666' y='236' width='5' height='10' fill='#000'/>
<rect x='676' y='236' width='1' height='13' fill='#000'/>
<rect x='674.5' y='242.5' width='4' height='3' fill='#fff' stroke='#000' stroke-width='1'/>
<rect x='684' y='228' width='1' height='21' fill='#000'/>
<rect x='682.5' y='240.5' width='4' height='2' fill='#fff' stroke='#000' stroke-width='1'/>
<rect x='692' y='236' width='1' height='15' fill='#000'/>
<rect x='690.5' y='238.5' width='4' height='2' fill='#fff' stroke='#000' stroke-width='1'/>
<rect x='700' y='223' width='1' height='38' fill='#000'/>
<rect x='698' y='238' width='5' height='16' fill='#000'/>
<rect x='708' y='233' width='1' height='33' fill='#000'/>
<rect x='706.5' y='233.5' width='4' height='20' fill='#fff' stroke='#000' stroke-width='1'/>
<rect x='716' y='217' width='1' height='22' fill='#000'/>
<rect x='714.5' y='219.5' width='4' height='14' fill='#fff' stroke='#000' stroke-width='1'/>
<rect x='724' y='219' width='1' height='3' fill='#000'/>
<rect x='722' y='219' width='5' height='3' fill='#000'/>
<rect x='732' y='207' width='1' height='11' fill='#000'/>
<rect x='730.5' y='211.5' width='4' height='6' fill='#fff' stroke='#000' stroke-width='1'/>
<rect x='740' y='195' width='1' height='20' fill='#000'/>
<rect x='738.5' y='204.5' width='4' height='6' fill='#fff' stroke='#000' stroke-width='1'/>
<rect x='748' y='198' width='1' height='16' fill='#000'/>
<rect x='746' y='203' width='5' height='3' fill='#000'/>
<rect x='756' y='198' width='1' height='18' fill='#000'/>
<rect x='754' y='205' width='5' height='2' fill='#000'/>
<rect x='764' y='195' width='1' height='19' fill='#000'/>
<rect x='762.5' y='198.5' width='4' height='8' fill='#fff' stroke='#000' stroke-width='1'/>
<rect x='772' y='195' width='1' height='7' fill='#000'/>
<rect x='770.5' y='196.5' width='4' height='2' fill='#fff' stroke='#000' stroke-width='1'/>
<rect x='780' y='167' width='1' height='16' fill='#000'/>
<rect x='778.5' y='170.5' width='4' height='6' fill='#fff' stroke='#000' stroke-width='1'/>
<rect x='788' y='157' width='1' height='28' fill='#000'/>
<rect x='786.5' y='157.5' width='4' height='13' fill='#fff' stroke='#000' stroke-width='1'/>
<rect x='796' y='134' width='1' height='27' fill='#000'/>
<rect x='794.5' y='139.5' width='4' height='18' fill='#fff' stroke='#000' stroke-width='1'/>
<rect x='804' y='134' width='1' height='26' fill='#000'/>
<rect x='802' y='139' width='5' height='9' fill='#000'/>
<rect x='812' y='123' width='1' height='71' fill='#000'/>
<rect x='810' y='147' width='5' height='39' fill='#000'/>
<rect x='820' y='165' width='1' height='76' fill='#000'/>
<rect x='818' y='185' width='5' height='35' fill='#000'/>
<rect x='828' y='212' width='1' height='15' fill='#000'/>
<rect x='826' y='219' width='5' height='4' fill='#000'/>
<rect x='836' y='209' width='1' height='17' fill='#000'/>
<rect x='834' y='221' width='5' height='2' fill='#000'/>
<rect x='844' y='186' width='1' height='46' fill='#000'/>
<rect x='842.5' y='189.5' width='4' height='32' fill='#fff' stroke='#000' stroke-width='1'/>
<rect x='852' y='184' width='1' height='34' fill='#000'/>
<rect x='850' y='189' width='5' height='26' fill='#000'/>
<rect x='860' y='165' width='1' height='52' fill='#000'/>
<rect x='858.5' y='198.5' width='4' height='16' fill='#fff' stroke='#000' stroke-width='1'/>
<rect x='868' y='179' width='1' height='48' fill='#000'/>
<rect x='866' y='198' width='5' height='27' fill='#000'/>
<rect x='876' y='224' width='1' height='38' fill='#000'/>
<rect x='874' y='224' width='5' height='37' fill='#000'/>
<rect x='884' y='250' width='1' height='41' fill='#000'/>
<rect x='882' y='260' width='5' height='5' fill='#000'/>
<rect x='892' y='249' width='1' height='21' fill='#000'/>
<rect x='890' y='264' width='5' height='3' fill='#000'/>
<rect x='900' y='257' width='1' height='29' fill='#000'/>
<rect x='898' y='266' width='5' height='16' fill='#000'/>
<rect x='908' y='182' width='1' height='118' fill='#000'/>
<rect x='906.5' y='187.5' width='4' height='94' fill='#fff' stroke='#000' stroke-width='1'/>
<rect x='916' y='171' width='1' height='21' fill='#000'/>
<rect x='914.5' y='179.5' width='4' height='8' fill='#fff' stroke='#000' stroke-width='1'/>
<rect x='924' y='167' width='1' height='13' fill='#000'/>
<rect x='922.5' y='174.5' width='4' height='5' fill='#fff' stroke='#000' stroke-width='1'/>
<rect x='932' y='174' width='1' height='18' fill='#000'/>
<rect x='930' y='174' width='5' height='18' fill='#000'/>
<rect x='940' y='182' width='1' height='32' fill='#000'/>
<rect x='938' y='191' width='5' height='21' fill='#000'/>
<rect x='948' y='189' width='1' height='30' fill='#000'/>
<rect x='946.5' y='197.5' width='4' height='13' fill='#fff' stroke='#000' stroke-width='1'/>
<rect x='956' y='150' width='1' height='50' fill='#000'/>
<rect x='954.5' y='152.5' width='4' height='45' fill='#fff' stroke='#000' stroke-width='1'/>
<rect x='964' y='113' width='1' height='43' fill='#000'/>
<rect x='962.5' y='116.5' width='4' height='36' fill='#fff' stroke='#000' stroke-width='1'/>
<rect x='972' y='114' width='1' height='4' fill='#000'/>
<rect x='970' y='115' width='5' height='2' fill='#000'/>
<rect x='980' y='111' width='1' height='7' fill='#000'/>
<rect x='978' y='114' width='5' height='4' fill='#000'/>
<rect x='988' y='112' width='1' height='32' fill='#000'/>
<rect x='986' y='117' width='5' height='11' fill='#000'/>
<rect x='996' y='124' width='1' height='16' fill='#000'/>
<rect x='994' y='127' width='5' height='6' fill='#000'/>
<rect x='1004' y='124' width='1' height='23' fill='#000'/>
<rect x='1002' y='132' width='5' height='9' fill='#000'/>
<rect x='1012' y='126' width='1' height='44' fill='#000'/>
<rect x='1010' y='140' width='5' height='10' fill='#000'/>
<rect x='1020' y='139' width='1' height='25' fill='#000'/>
<rect x='1018' y='149' width='5' height='7' fill='#000'/>
<rect x='1028' y='133' width='1' height='23' fill='#000'/>
<rect x='1026.5' y='143.5' width='4' height='12' fill='#fff' stroke='#000' stroke-width='1'/>
<rect x='1036' y='133' width='1' height='23' fill='#000'/>
<rect x='1034.5' y='136.5' width='4' height='6' fill='#fff' stroke='#000' stroke-width='1'/>
<rect x='1044' y='132' width='1' height='18' fill='#000'/>
<rect x='1042' y='136' width='5' height='5' fill='#000'/>
<rect x='1052' y='133' width='1' height='36' fill='#000'/>
<rect x='1050' y='140' width='5' height='18' fill='#000'/>
<rect x='1060' y='117' width='1' height='49' fill='#000'/>
<rect x='1058.5' y='133.5' width='4' height='24' fill='#fff' stroke='#000' stroke-width='1'/>
<rect x='1068' y='115' width='1' height='65' fill='#000'/>
<rect x='1066.5' y='120.5' width='4' height='13' fill='#fff' stroke='#000' stroke-width='1'/>
<rect x='1076' y='120' width='1' height='17' fill='#000'/>
<rect x='1074' y='120' width='5' height='13' fill='#000'/>
<rect x='1084' y='119' width='1' height='17' fill='#000'/>
<rect x='1082.5' y='127.5' width='4' height='5' fill='#fff' stroke='#000' stroke-width='1'/>
<rect x='1092' y='113' width='1' height='16' fill='#000'/>
<rect x='1090.5' y='119.5' width='4' height='8' fill='#fff' stroke='#000' stroke-width='1'/>
<rect x='1100' y='95' width='1' height='35' fill='#000'/>
<rect x='1098.5' y='109.5' width='4' height='10' fill='#fff' stroke='#000' stroke-width='1'/>
<rect x='1108' y='86' width='1' height='48' fill='#000'/>
<rect x='1106.5' y='87.5' width='4' height='22' fill='#fff' stroke='#000' stroke-width='1'/>
<rect x='1116' y='58' width='1' height='32' fill='#000'/>
<rect x='1114.5' y='68.5' width='4' height='19' fill='#fff' stroke='#000' stroke-width='1'/>
<rect x='1124' y='68' width='1' height='12' fill='#000'/>
<rect x='1122' y='68' width='5' height='12' fill='#000'/>
<rect x='1132' y='67' width='1' height='18' fill='#000'/>
<rect x='1130.5' y='74.5' width='4' height='5' fill='#fff' stroke='#000' stroke-width='1'/>
<rect x='1140' y='72' width='1' height='24' fill='#000'/>
<rect x='1138' y='74' width='5' height='15' fill='#000'/>
<rect x='1148' y='77' width='1' height='18' fill='#000'/>
<rect x='1146.5' y='84.5' width='4' height='4' fill='#fff' stroke='#000' stroke-width='1'/>
<rect x='1156' y='76' width='1' height='31' fill='#000'/>
<rect x='1154' y='84' width='5' height='2' fill='#000'/>
<rect x='1164' y='83' width='1' height='21' fill='#000'/>
<rect x='1162' y='85' width='5' height='10' fill='#000'/>
<rect x='1172' y='91' width='1' height='10' fill='#000'/>
<rect x='1170' y='94' width='5' height='2' fill='#000'/>
<rect x='1180' y='94' width='1' height='27' fill='#000'/>
<rect x='1178' y='95' width='5' height='12' fill='#000'/>
<rect x='1188' y='94' width='1' height='18' fill='#000'/>
<rect x='1186.5' y='106.5' width='4' height='1' fill='#fff' stroke='#000' stroke-width='1'/>
<rect x='1196' y='70' width='1' height='38' fill='#000'/>
<rect x='1194.5' y='75.5' width='4' height='32' fill='#fff' stroke='#000' stroke-width='1'/>
<rect x='1204' y='67' width='1' height='90' fill='#000'/>
<rect x='1202' y='75' width='5' height='58' fill='#000'/>
<rect x='1212' y='101' width='1' height='38' fill='#000'/>
<rect x='1210.5' y='112.5' width='4' height='20' fill='#fff' stroke='#000' stroke-width='1'/>
<rect x='1220' y='108' width='1' height='10' fill='#000'/>
<rect x='1218' y='112' width='5' height='6' fill='#000'/>
<rect x='1228' y='139' width='1' height='8' fill='#000'/>
<rect x='1226' y='144' width='5' height='2' fill='#000'/>
<rect x='1236' y='139' width='1' height='21' fill='#000'/>
<rect x='1234.5' y='144.5' width='4' height='1' fill='#fff' stroke='#000' stroke-width='1'/>
<rect x='1244' y='138' width='1' height='25' fill='#000'/>
<rect x='1242' y='144' width='5' height='7' fill='#000'/>
<rect x='1252' y='131' width='1' height='30' fill='#000'/>
<rect x='1250' y='150' width='5' height='1' fill='#000'/>
<rect x='1260' y='94' width='1' height='79' fill='#000'/>
<rect x='1258.5' y='98.5' width='4' height='52' fill='#fff' stroke='#000' stroke-width='1'/>
<rect x='1268' y='77' width='1' height='49' fill='#000'/>
<rect x='1266' y='98' width='5' height='4' fill='#000'/>
<rect x='1276' y='100' width='1' height='13' fill='#000'/>
<rect x='1274' y='101' width='5' height='11' fill='#000'/>
<rect x='1284' y='97' width='1' height='18' fill='#000'/>
<rect x='1282.5' y='108.5' width='4' height='3' fill='#fff' stroke='#000' stroke-width='1'/>
<rect x='1292' y='75' width='1' height='36' fill='#000'/>
<rect x='1290.5' y='82.5' width='4' height='26' fill='#fff' stroke='#000' stroke-width='1'/>
<rect x='1300' y='79' width='1' height='19' fill='#000'/>
<rect x='1298' y='82' width='5' height='14' fill='#000'/>
<rect x='1308' y='48' width='1' height='51' fill='#000'/>
<rect x='1306.5' y='70.5' width='4' height='25' fill='#fff' stroke='#000' stroke-width='1'/>
<rect x='1316' y='70' width='1' height='120' fill='#000'/>
<rect x='1314' y='70' width='5' height='85' fill='#000'/>
<rect x='1324' y='135' width='1' height='26' fill='#000'/>
<rect x='1322.5' y='149.5' width='4' height='4' fill='#fff' stroke='#000' stroke-width='1'/>
<rect x='1332' y='130' width='1' height='21' fill='#000'/>
<rect x='1330.5' y='141.5' width='4' height='8' fill='#fff' stroke='#000' stroke-width='1'/>
<rect x='1340' y='135' width='1' height='18' fill='#000'/>
<rect x='1338' y='141' width='5' height='1' fill='#000'/>
<rect x='1348' y='135' width='1' height='49' fill='#000'/>
<rect x='1346' y='141' width='5' height='12' fill='#000'/>
<rect x='1356' y='142' width='1' height='48' fill='#000'/>
<rect x='1354' y='152' width='5' height='25' fill='#000'/>
<rect x='1364' y='155' width='1' height='77' fill='#000'/>
<rect x='1362' y='176' width='5' height='33' fill='#000'/>
<rect x='1372' y='203' width='1' height='10' fill='#000'/>
<rect x='1370' y='207' width='5' height='1' fill='#000'/>
</g>
<text x='-4.2' y='171' font-size='10' fill='#000' textLength='79.50' lengthAdjust='spacingAndGlyphs' text-anchor='start' font-family="'Liberation Sans',sans-serif">#7583517 buy 0.01</text>
<text x='3' y='33' font-size='10' fill='#000' textLength='43.50' lengthAdjust='spacingAndGlyphs' text-anchor='start' font-family="'Liberation Sans',sans-serif">USOil-,H4</text>
<text x='52.5' y='33' font-size='10' fill='#000' textLength='140.50' lengthAdjust='spacingAndGlyphs' text-anchor='start' font-family="'Liberation Sans',sans-serif">115.690 116.099 115.498 115.756</text>
<g shape-rendering='crispEdges'>
<rect x='341.5' y='450.5' width='61' height='19' fill='none' stroke='#ff0000' stroke-width='1' shape-rendering='crispEdges'/>
<text x='343' y='466' font-size='16' fill='#ff0000' textLength='57.00' lengthAdjust='spacingAndGlyphs' text-anchor='start' font-family="'Liberation Sans',sans-serif">103.249</text>
<rect x='403' y='459' width='10' height='1' fill='#ff0000'/>
<rect x='1181.5' y='181.5' width='61' height='19' fill='none' stroke='#ff0000' stroke-width='1' shape-rendering='crispEdges'/>
<text x='1183' y='197' font-size='16' fill='#ff0000' textLength='57.00' lengthAdjust='spacingAndGlyphs' text-anchor='start' font-family="'Liberation Sans',sans-serif">116.583</text>
<rect x='1243.5' y='187.5' width='2' height='4' fill='none' stroke='#ff0000' stroke-width='1'/>
<rect x='1293.5' y='223.5' width='61' height='18' fill='none' stroke='#ff0000' stroke-width='1' shape-rendering='crispEdges'/>
<text x='1295' y='239' font-size='16' fill='#ff0000' textLength='57.00' lengthAdjust='spacingAndGlyphs' text-anchor='start' font-family="'Liberation Sans',sans-serif">114.501</text>
<rect x='1355.5' y='230.5' width='2' height='3' fill='none' stroke='#ff0000' stroke-width='1'/>
<rect x='1357' y='232' width='7' height='1' fill='#ff0000'/>
</g>
<g shape-rendering='crispEdges'>
<rect x='0' y='41' width='43' height='24' fill='url(#tabg)'/>
<rect x='0' y='41' width='43' height='1' fill='#c00000'/>
<rect x='42' y='41' width='1' height='25' fill='#c00000'/>
<rect x='0' y='64' width='39' height='1' fill='#8c0000'/>
<rect x='0' y='65' width='39' height='1' fill='#ff7a7a'/>
<rect x='0' y='65' width='100' height='33' fill='url(#boxg)'/>
<rect x='0' y='65' width='39' height='1' fill='#f06060'/>
<rect x='42' y='65' width='58' height='1' fill='#c00000'/>
<rect x='99' y='65' width='1' height='33' fill='#a00000'/>
<rect x='0' y='97' width='100' height='1' fill='#a00000'/>
<rect x='158' y='41' width='52' height='24' fill='url(#tabg)'/>
<rect x='158' y='41' width='52' height='1' fill='#c00000'/>
<rect x='158' y='41' width='1' height='25' fill='#c00000'/>
<rect x='209' y='41' width='1' height='57' fill='#c00000'/>
<rect x='162' y='64' width='44' height='1' fill='#8c0000'/>
<rect x='162' y='65' width='44' height='1' fill='#ff7a7a'/>
<rect x='102' y='65' width='108' height='33' fill='url(#boxg)'/>
<rect x='102' y='65' width='57' height='1' fill='#c00000'/>
<rect x='162' y='65' width='44' height='1' fill='#f06060'/>
<rect x='102' y='65' width='1' height='33' fill='#c00000'/>
<rect x='209' y='65' width='1' height='33' fill='#a00000'/>
<rect x='102' y='97' width='108' height='1' fill='#a00000'/>
<rect x='45' y='41' width='111' height='22' fill='#a9adb5'/>
<rect x='46' y='42' width='109' height='20' fill='#fff'/>
<rect x='47' y='43' width='19' height='18' fill='url(#btng)'/>
<rect x='66' y='42' width='1' height='20' fill='#a9adb5'/>
<rect x='134' y='42' width='1' height='20' fill='#a9adb5'/>
<rect x='136' y='43' width='19' height='18' fill='url(#btng)'/>
</g>
<polygon points='52.5,50 58.5,50 55.5,53.5' fill='#4a68c0'/>
<polygon points='142.5,53 148.5,53 145.5,49.5' fill='#4a68c0'/>
<text x='131' y='56.5' font-size='12.5' fill='#000' textLength='23.00' lengthAdjust='spacingAndGlyphs' text-anchor='end' font-family="'Liberation Sans',sans-serif">1.00</text>
<text x='3' y='57' font-size='12' fill='#fff' textLength='26.50' lengthAdjust='spacingAndGlyphs' text-anchor='start' font-family="'Liberation Sans',sans-serif">SELL</text>
<text x='172' y='57' font-size='12' fill='#fff' textLength='23.00' lengthAdjust='spacingAndGlyphs' text-anchor='start' font-family="'Liberation Sans',sans-serif">BUY</text>
<text x='14' y='92.6' font-size='12' fill='#fff' textLength='20.50' lengthAdjust='spacingAndGlyphs' text-anchor='start' font-family="'Liberation Sans',sans-serif" font-weight='bold'>115</text>
<text x='38' y='93' font-size='33' fill='#fff' textLength='35.00' lengthAdjust='spacingAndGlyphs' text-anchor='start' font-family="'Liberation Sans',sans-serif">75</text>
<text x='78' y='76.5' font-size='12' fill='#fff' textLength='7.00' lengthAdjust='spacingAndGlyphs' text-anchor='start' font-family="'Liberation Sans',sans-serif" font-weight='bold'>6</text>
<text x='124' y='92.6' font-size='12' fill='#fff' textLength='20.50' lengthAdjust='spacingAndGlyphs' text-anchor='start' font-family="'Liberation Sans',sans-serif" font-weight='bold'>115</text>
<text x='149.5' y='93.5' font-size='33' fill='#fff' textLength='35.00' lengthAdjust='spacingAndGlyphs' text-anchor='start' font-family="'Liberation Sans',sans-serif">82</text>
<text x='188.5' y='76.5' font-size='12' fill='#fff' textLength='7.00' lengthAdjust='spacingAndGlyphs' text-anchor='start' font-family="'Liberation Sans',sans-serif" font-weight='bold'>6</text>
<g shape-rendering='crispEdges'>
<rect x='1617' y='43' width='2' height='1' fill='#000'/>
<text x='1622' y='47' font-size='10' fill='#000' textLength='33.00' lengthAdjust='spacingAndGlyphs' text-anchor='start' font-family="'Liberation Sans',sans-serif">123.875</text>
<rect x='1617' y='76' width='2' height='1' fill='#000'/>
<text x='1622' y='80' font-size='10' fill='#000' textLength='33.00' lengthAdjust='spacingAndGlyphs' text-anchor='start' font-family="'Liberation Sans',sans-serif">122.255</text>
<rect x='1617' y='109' width='2' height='1' fill='#000'/>
<text x='1622' y='113' font-size='10' fill='#000' textLength='33.00' lengthAdjust='spacingAndGlyphs' text-anchor='start' font-family="'Liberation Sans',sans-serif">120.590</text>
<rect x='1617' y='142' width='2' height='1' fill='#000'/>
<text x='1622' y='146' font-size='10' fill='#000' textLength='33.00' lengthAdjust='spacingAndGlyphs' text-anchor='start' font-family="'Liberation Sans',sans-serif">118.970</text>
<rect x='1617' y='175' width='2' height='1' fill='#000'/>
<text x='1622' y='179' font-size='10' fill='#000' textLength='33.00' lengthAdjust='spacingAndGlyphs' text-anchor='start' font-family="'Liberation Sans',sans-serif">117.350</text>
<rect x='1617' y='307' width='2' height='1' fill='#000'/>
<text x='1622' y='311' font-size='10' fill='#000' textLength='33.00' lengthAdjust='spacingAndGlyphs' text-anchor='start' font-family="'Liberation Sans',sans-serif">110.780</text>
<rect x='1617' y='340' width='2' height='1' fill='#000'/>
<text x='1622' y='344' font-size='10' fill='#000' textLength='33.00' lengthAdjust='spacingAndGlyphs' text-anchor='start' font-family="'Liberation Sans',sans-serif">109.160</text>
<rect x='1617' y='373' width='2' height='1' fill='#000'/>
<text x='1622' y='377' font-size='10' fill='#000' textLength='33.00' lengthAdjust='spacingAndGlyphs' text-anchor='start' font-family="'Liberation Sans',sans-serif">107.495</text>
<rect x='1617' y='406' width='2' height='1' fill='#000'/>
<text x='1622' y='410' font-size='10' fill='#000' textLength='33.00' lengthAdjust='spacingAndGlyphs' text-anchor='start' font-family="'Liberation Sans',sans-serif">105.875</text>
<rect x='1617' y='440' width='2' height='1' fill='#000'/>
<text x='1622' y='444' font-size='10' fill='#000' textLength='33.00' lengthAdjust='spacingAndGlyphs' text-anchor='start' font-family="'Liberation Sans',sans-serif">104.210</text>
<rect x='1617' y='472' width='2' height='1' fill='#000'/>
<text x='1622' y='476' font-size='10' fill='#000' textLength='33.00' lengthAdjust='spacingAndGlyphs' text-anchor='start' font-family="'Liberation Sans',sans-serif">102.590</text>
<rect x='1617' y='505' width='2' height='1' fill='#000'/>
<text x='1622' y='509' font-size='10' fill='#000' textLength='33.00' lengthAdjust='spacingAndGlyphs' text-anchor='start' font-family="'Liberation Sans',sans-serif">100.970</text>
<rect x='1617' y='539' width='2' height='1' fill='#000'/>
<text x='1622' y='543' font-size='10' fill='#000' textLength='28.00' lengthAdjust='spacingAndGlyphs' text-anchor='start' font-family="'Liberation Sans',sans-serif">99.305</text>
<rect x='1617' y='571' width='2' height='1' fill='#000'/>
<text x='1622' y='575' font-size='10' fill='#000' textLength='28.00' lengthAdjust='spacingAndGlyphs' text-anchor='start' font-family="'Liberation Sans',sans-serif">97.685</text>
<rect x='1618' y='120' width='41' height='11' fill='#ff0000'/>
<text x='1622' y='130' font-size='10' fill='#fff' textLength='33.00' lengthAdjust='spacingAndGlyphs' text-anchor='start' font-family="'Liberation Sans',sans-serif">119.755</text>
<rect x='1618' y='148' width='41' height='11' fill='#ff0000'/>
<text x='1622' y='158' font-size='10' fill='#fff' textLength='33.00' lengthAdjust='spacingAndGlyphs' text-anchor='start' font-family="'Liberation Sans',sans-serif">118.367</text>
<rect x='1618' y='184' width='41' height='11' fill='#ffa500'/>
<text x='1622' y='194' font-size='10' fill='#fff' textLength='33.00' lengthAdjust='spacingAndGlyphs' text-anchor='start' font-family="'Liberation Sans',sans-serif">116.583</text>
<rect x='1618' y='201' width='41' height='11' fill='#000'/>
<text x='1622' y='211' font-size='10' fill='#fff' textLength='33.00' lengthAdjust='spacingAndGlyphs' text-anchor='start' font-family="'Liberation Sans',sans-serif">115.756</text>
<rect x='1618' y='234' width='41' height='11' fill='#0000ff'/>
<text x='1622' y='244' font-size='10' fill='#fff' textLength='33.00' lengthAdjust='spacingAndGlyphs' text-anchor='start' font-family="'Liberation Sans',sans-serif">114.105</text>
<rect x='1618' y='266' width='41' height='11' fill='#0000ff'/>
<text x='1622' y='276' font-size='10' fill='#fff' textLength='33.00' lengthAdjust='spacingAndGlyphs' text-anchor='start' font-family="'Liberation Sans',sans-serif">112.519</text>
<rect x='1611.5' y='124.5' width='4' height='4' fill='#fff' stroke='#ff0000' stroke-width='1'/>
<rect x='1611.5' y='152.5' width='4' height='4' fill='#fff' stroke='#ff0000' stroke-width='1'/>
<rect x='1611.5' y='188.5' width='4' height='4' fill='#fff' stroke='#ffa500' stroke-width='1'/>
<rect x='1611.5' y='238.5' width='4' height='4' fill='#fff' stroke='#0000ff' stroke-width='1'/>
<rect x='1611.5' y='270.5' width='4' height='4' fill='#fff' stroke='#0000ff' stroke-width='1'/>
</g>
<g clip-path='url(#macd)' shape-rendering='crispEdges'>
<rect x='4' y='626' width='1' height='46' fill='#c0c0c0'/>
<rect x='12' y='636' width='1' height='36' fill='#c0c0c0'/>
<rect x='20' y='652' width='1' height='20' fill='#c0c0c0'/>
<rect x='28' y='670' width='1' height='2' fill='#c0c0c0'/>
<rect x='36' y='671' width='1' height='12' fill='#c0c0c0'/>
<rect x='44' y='671' width='1' height='25' fill='#c0c0c0'/>
<rect x='52' y='671' width='1' height='29' fill='#c0c0c0'/>
<rect x='60' y='671' width='1' height='37' fill='#c0c0c0'/>
<rect x='68' y='671' width='1' height='48' fill='#c0c0c0'/>
<rect x='76' y='671' width='1' height='58' fill='#c0c0c0'/>
<rect x='84' y='671' width='1' height='67' fill='#c0c0c0'/>
<rect x='92' y='671' width='1' height='66' fill='#c0c0c0'/>
<rect x='100' y='671' width='1' height='62' fill='#c0c0c0'/>
<rect x='108' y='671' width='1' height='54' fill='#c0c0c0'/>
<rect x='116' y='671' width='1' height='43' fill='#c0c0c0'/>
<rect x='124' y='671' width='1' height='34' fill='#c0c0c0'/>
<rect x='132' y='671' width='1' height='24' fill='#c0c0c0'/>
<rect x='140' y='671' width='1' height='20' fill='#c0c0c0'/>
<rect x='148' y='671' width='1' height='20' fill='#c0c0c0'/>
<rect x='156' y='671' width='1' height='18' fill='#c0c0c0'/>
<rect x='164' y='671' width='1' height='10' fill='#c0c0c0'/>
<rect x='172' y='671' width='1' height='1' fill='#c0c0c0'/>
<rect x='180' y='665' width='1' height='7' fill='#c0c0c0'/>
<rect x='188' y='657' width='1' height='15' fill='#c0c0c0'/>
<rect x='196' y='654' width='1' height='18' fill='#c0c0c0'/>
<rect x='204' y='649' width='1' height='23' fill='#c0c0c0'/>
<rect x='212' y='639' width='1' height='33' fill='#c0c0c0'/>
<rect x='220' y='630' width='1' height='42' fill='#c0c0c0'/>
<rect x='228' y='624' width='1' height='48' fill='#c0c0c0'/>
<rect x='236' y='617' width='1' height='55' fill='#c0c0c0'/>
<rect x='244' y='619' width='1' height='53' fill='#c0c0c0'/>
<rect x='252' y='620' width='1' height='52' fill='#c0c0c0'/>
<rect x='260' y='621' width='1' height='51' fill='#c0c0c0'/>
<rect x='268' y='613' width='1' height='59' fill='#c0c0c0'/>
<rect x='276' y='603' width='1' height='69' fill='#c0c0c0'/>
<rect x='284' y='596' width='1' height='76' fill='#c0c0c0'/>
<rect x='292' y='593' width='1' height='79' fill='#c0c0c0'/>
<rect x='300' y='591' width='1' height='81' fill='#c0c0c0'/>
<rect x='308' y='586' width='1' height='86' fill='#c0c0c0'/>
<rect x='316' y='587' width='1' height='85' fill='#c0c0c0'/>
<rect x='324' y='594' width='1' height='78' fill='#c0c0c0'/>
<rect x='332' y='596' width='1' height='76' fill='#c0c0c0'/>
<rect x='340' y='599' width='1' height='73' fill='#c0c0c0'/>
<rect x='348' y='600' width='1' height='72' fill='#c0c0c0'/>
<rect x='356' y='599' width='1' height='73' fill='#c0c0c0'/>
<rect x='364' y='613' width='1' height='59' fill='#c0c0c0'/>
<rect x='372' y='627' width='1' height='45' fill='#c0c0c0'/>
<rect x='380' y='649' width='1' height='23' fill='#c0c0c0'/>
<rect x='388' y='660' width='1' height='12' fill='#c0c0c0'/>
<rect x='396' y='671' width='1' height='1' fill='#c0c0c0'/>
<rect x='404' y='671' width='1' height='14' fill='#c0c0c0'/>
<rect x='412' y='671' width='1' height='18' fill='#c0c0c0'/>
<rect x='420' y='671' width='1' height='17' fill='#c0c0c0'/>
<rect x='428' y='671' width='1' height='16' fill='#c0c0c0'/>
<rect x='436' y='671' width='1' height='17' fill='#c0c0c0'/>
<rect x='444' y='671' width='1' height='14' fill='#c0c0c0'/>
<rect x='452' y='671' width='1' height='10' fill='#c0c0c0'/>
<rect x='460' y='671' width='1' height='7' fill='#c0c0c0'/>
<rect x='468' y='671' width='1' height='3' fill='#c0c0c0'/>
<rect x='476' y='671' width='1' height='1' fill='#c0c0c0'/>
<rect x='484' y='670' width='1' height='2' fill='#c0c0c0'/>
<rect x='492' y='667' width='1' height='5' fill='#c0c0c0'/>
<rect x='500' y='663' width='1' height='9' fill='#c0c0c0'/>
<rect x='508' y='661' width='1' height='11' fill='#c0c0c0'/>
<rect x='516' y='662' width='1' height='10' fill='#c0c0c0'/>
<rect x='524' y='663' width='1' height='9' fill='#c0c0c0'/>
<rect x='532' y='665' width='1' height='7' fill='#c0c0c0'/>
<rect x='540' y='667' width='1' height='5' fill='#c0c0c0'/>
<rect x='548' y='670' width='1' height='2' fill='#c0c0c0'/>
<rect x='556' y='669' width='1' height='3' fill='#c0c0c0'/>
<rect x='564' y='670' width='1' height='2' fill='#c0c0c0'/>
<rect x='572' y='670' width='1' height='2' fill='#c0c0c0'/>
<rect x='580' y='668' width='1' height='4' fill='#c0c0c0'/>
<rect x='588' y='666' width='1' height='6' fill='#c0c0c0'/>
<rect x='596' y='665' width='1' height='7' fill='#c0c0c0'/>
<rect x='604' y='663' width='1' height='9' fill='#c0c0c0'/>
<rect x='612' y='667' width='1' height='5' fill='#c0c0c0'/>
<rect x='620' y='666' width='1' height='6' fill='#c0c0c0'/>
<rect x='628' y='666' width='1' height='6' fill='#c0c0c0'/>
<rect x='636' y='665' width='1' height='7' fill='#c0c0c0'/>
<rect x='644' y='663' width='1' height='9' fill='#c0c0c0'/>
<rect x='652' y='662' width='1' height='10' fill='#c0c0c0'/>
<rect x='660' y='652' width='1' height='20' fill='#c0c0c0'/>
<rect x='668' y='646' width='1' height='26' fill='#c0c0c0'/>
<rect x='676' y='641' width='1' height='31' fill='#c0c0c0'/>
<rect x='684' y='637' width='1' height='35' fill='#c0c0c0'/>
<rect x='692' y='634' width='1' height='38' fill='#c0c0c0'/>
<rect x='700' y='635' width='1' height='37' fill='#c0c0c0'/>
<rect x='708' y='632' width='1' height='40' fill='#c0c0c0'/>
<rect x='716' y='629' width='1' height='43' fill='#c0c0c0'/>
<rect x='724' y='627' width='1' height='45' fill='#c0c0c0'/>
<rect x='732' y='625' width='1' height='47' fill='#c0c0c0'/>
<rect x='740' y='622' width='1' height='50' fill='#c0c0c0'/>
<rect x='748' y='621' width='1' height='51' fill='#c0c0c0'/>
<rect x='756' y='621' width='1' height='51' fill='#c0c0c0'/>
<rect x='764' y='621' width='1' height='51' fill='#c0c0c0'/>
<rect x='772' y='620' width='1' height='52' fill='#c0c0c0'/>
<rect x='780' y='617' width='1' height='55' fill='#c0c0c0'/>
<rect x='788' y='613' width='1' height='59' fill='#c0c0c0'/>
<rect x='796' y='608' width='1' height='64' fill='#c0c0c0'/>
<rect x='804' y='606' width='1' height='66' fill='#c0c0c0'/>
<rect x='812' y='611' width='1' height='61' fill='#c0c0c0'/>
<rect x='820' y='620' width='1' height='52' fill='#c0c0c0'/>
<rect x='828' y='628' width='1' height='44' fill='#c0c0c0'/>
<rect x='836' y='635' width='1' height='37' fill='#c0c0c0'/>
<rect x='844' y='636' width='1' height='36' fill='#c0c0c0'/>
<rect x='852' y='641' width='1' height='31' fill='#c0c0c0'/>
<rect x='860' y='643' width='1' height='29' fill='#c0c0c0'/>
<rect x='868' y='649' width='1' height='23' fill='#c0c0c0'/>
<rect x='876' y='658' width='1' height='14' fill='#c0c0c0'/>
<rect x='884' y='667' width='1' height='5' fill='#c0c0c0'/>
<rect x='892' y='671' width='1' height='3' fill='#c0c0c0'/>
<rect x='900' y='671' width='1' height='10' fill='#c0c0c0'/>
<rect x='908' y='671' width='1' height='3' fill='#c0c0c0'/>
<rect x='916' y='666' width='1' height='6' fill='#c0c0c0'/>
<rect x='924' y='660' width='1' height='12' fill='#c0c0c0'/>
<rect x='932' y='658' width='1' height='14' fill='#c0c0c0'/>
<rect x='940' y='659' width='1' height='13' fill='#c0c0c0'/>
<rect x='948' y='658' width='1' height='14' fill='#c0c0c0'/>
<rect x='956' y='651' width='1' height='21' fill='#c0c0c0'/>
<rect x='964' y='640' width='1' height='32' fill='#c0c0c0'/>
<rect x='972' y='632' width='1' height='40' fill='#c0c0c0'/>
<rect x='980' y='627' width='1' height='45' fill='#c0c0c0'/>
<rect x='988' y='624' width='1' height='48' fill='#c0c0c0'/>
<rect x='996' y='624' width='1' height='48' fill='#c0c0c0'/>
<rect x='1004' y='625' width='1' height='47' fill='#c0c0c0'/>
<rect x='1012' y='628' width='1' height='44' fill='#c0c0c0'/>
<rect x='1020' y='631' width='1' height='41' fill='#c0c0c0'/>
<rect x='1028' y='633' width='1' height='39' fill='#c0c0c0'/>
<rect x='1036' y='633' width='1' height='39' fill='#c0c0c0'/>
<rect x='1044' y='635' width='1' height='37' fill='#c0c0c0'/>
<rect x='1052' y='639' width='1' height='33' fill='#c0c0c0'/>
<rect x='1060' y='639' width='1' height='33' fill='#c0c0c0'/>
<rect x='1068' y='637' width='1' height='35' fill='#c0c0c0'/>
<rect x='1076' y='638' width='1' height='34' fill='#c0c0c0'/>
<rect x='1084' y='639' width='1' height='33' fill='#c0c0c0'/>
<rect x='1092' y='638' width='1' height='34' fill='#c0c0c0'/>
<rect x='1100' y='637' width='1' height='35' fill='#c0c0c0'/>
<rect x='1108' y='633' width='1' height='39' fill='#c0c0c0'/>
<rect x='1116' y='628' width='1' height='44' fill='#c0c0c0'/>
<rect x='1124' y='625' width='1' height='47' fill='#c0c0c0'/>
<rect x='1132' y='624' width='1' height='48' fill='#c0c0c0'/>
<rect x='1140' y='625' width='1' height='47' fill='#c0c0c0'/>
<rect x='1148' y='626' width='1' height='46' fill='#c0c0c0'/>
<rect x='1156' y='627' width='1' height='45' fill='#c0c0c0'/>
<rect x='1164' y='630' width='1' height='42' fill='#c0c0c0'/>
<rect x='1172' y='633' width='1' height='39' fill='#c0c0c0'/>
<rect x='1180' y='637' width='1' height='35' fill='#c0c0c0'/>
<rect x='1188' y='641' width='1' height='31' fill='#c0c0c0'/>
<rect x='1196' y='639' width='1' height='33' fill='#c0c0c0'/>
<rect x='1204' y='647' width='1' height='25' fill='#c0c0c0'/>
<rect x='1212' y='650' width='1' height='22' fill='#c0c0c0'/>
<rect x='1220' y='654' width='1' height='18' fill='#c0c0c0'/>
<rect x='1228' y='661' width='1' height='11' fill='#c0c0c0'/>
<rect x='1236' y='667' width='1' height='5' fill='#c0c0c0'/>
<rect x='1244' y='671' width='1' height='1' fill='#c0c0c0'/>
<rect x='1252' y='671' width='1' height='5' fill='#c0c0c0'/>
<rect x='1260' y='671' width='1' height='1' fill='#c0c0c0'/>
<rect x='1268' y='669' width='1' height='3' fill='#c0c0c0'/>
<rect x='1276' y='668' width='1' height='4' fill='#c0c0c0'/>
<rect x='1284' y='667' width='1' height='5' fill='#c0c0c0'/>
<rect x='1292' y='662' width='1' height='10' fill='#c0c0c0'/>
<rect x='1300' y='661' width='1' height='11' fill='#c0c0c0'/>
<rect x='1308' y='656' width='1' height='16' fill='#c0c0c0'/>
<rect x='1316' y='665' width='1' height='7' fill='#c0c0c0'/>
<rect x='1324' y='671' width='1' height='1' fill='#c0c0c0'/>
<rect x='1332' y='671' width='1' height='3' fill='#c0c0c0'/>
<rect x='1340' y='671' width='1' height='6' fill='#c0c0c0'/>
<rect x='1348' y='671' width='1' height='10' fill='#c0c0c0'/>
<rect x='1356' y='671' width='1' height='16' fill='#c0c0c0'/>
<rect x='1364' y='671' width='1' height='26' fill='#c0c0c0'/>
<rect x='1372' y='671' width='1' height='33' fill='#c0c0c0'/>
</g>
<g clip-path='url(#macd)'>
<polyline points='-3.5,620.5 4.5,620.5 12.5,621.3 20.5,625.0 28.5,632.2 36.5,640.3 44.5,647.5 52.5,654.7 60.5,665.5 68.5,675.4 76.5,688.0 84.5,699.4 92.5,708.8 100.5,715.8 108.5,720.5 116.5,722.5 124.5,723.0 132.5,721.6 140.5,718.4 148.5,714.1 156.5,708.6 164.5,702.3 172.5,695.5 180.5,688.8 188.5,682.5 196.5,676.9 204.5,671.8 212.5,666.0 220.5,659.3 228.5,652.1 236.5,645.0 244.5,639.1 252.5,634.2 260.5,630.2 268.5,625.6 276.5,620.5 284.5,615.8 292.5,611.7 300.5,608.0 308.5,604.6 316.5,601.1 324.5,598.2 332.5,595.4 340.5,593.8 348.5,593.4 356.5,593.7 364.5,595.9 372.5,599.9 380.5,606.9 388.5,615.0 396.5,623.6 404.5,633.5 412.5,643.5 420.5,653.3 428.5,663.0 436.5,671.3 444.5,677.8 452.5,681.3 460.5,683.3 468.5,683.6 476.5,682.1 484.5,680.0 492.5,677.7 500.5,675.0 508.5,672.1 516.5,669.6 524.5,667.5 532.5,666.1 540.5,665.4 548.5,665.3 556.5,665.1 564.5,665.4 572.5,666.1 580.5,666.9 588.5,667.3 596.5,667.6 604.5,667.4 612.5,667.4 620.5,667.0 628.5,666.7 636.5,666.2 644.5,665.5 652.5,664.8 660.5,663.3 668.5,661.2 676.5,658.7 684.5,655.4 692.5,651.8 700.5,648.3 708.5,644.7 716.5,640.9 724.5,637.0 732.5,634.0 740.5,631.3 748.5,629.1 756.5,627.3 764.5,625.8 772.5,624.2 780.5,622.5 788.5,620.7 796.5,618.6 804.5,616.5 812.5,615.2 820.5,615.0 828.5,615.8 836.5,617.4 844.5,619.2 852.5,621.9 860.5,625.3 868.5,629.8 876.5,635.6 884.5,641.8 892.5,647.8 900.5,653.7 908.5,657.9 916.5,661.3 924.5,663.3 932.5,664.9 940.5,666.1 948.5,666.0 956.5,664.2 964.5,660.4 972.5,655.0 980.5,649.8 988.5,645.1 996.5,641.1 1004.5,637.5 1012.5,634.0 1020.5,631.1 1028.5,629.1 1036.5,628.3 1044.5,628.6 1052.5,630.0 1060.5,631.6 1068.5,633.1 1076.5,634.6 1084.5,635.8 1092.5,636.6 1100.5,637.0 1108.5,637.0 1116.5,636.2 1124.5,634.7 1132.5,633.0 1140.5,631.6 1148.5,630.2 1156.5,628.9 1164.5,628.0 1172.5,627.5 1180.5,628.0 1188.5,629.4 1196.5,631.0 1204.5,633.6 1212.5,636.4 1220.5,639.6 1228.5,643.4 1236.5,647.5 1244.5,651.9 1252.5,656.2 1260.5,659.7 1268.5,662.9 1276.5,665.2 1284.5,667.1 1292.5,668.0 1300.5,667.9 1308.5,666.7 1316.5,665.9 1324.5,665.3 1332.5,665.6 1340.5,666.5 1348.5,668.0 1356.5,670.2 1364.5,674.0 1372.5,678.8' fill='none' stroke='#ff0000' stroke-width='1' shape-rendering='crispEdges' stroke-dasharray='3 3'/>
</g>
<text x='0.5' y='589' font-size='10' fill='#000' textLength='126.00' lengthAdjust='spacingAndGlyphs' text-anchor='start' font-family="'Liberation Sans',sans-serif">ACD(12,26,9) -0.8765 -0.2060</text>
<text x='-0.5' y='589' font-size='10' fill='#000' textLength='8.00' lengthAdjust='spacingAndGlyphs' text-anchor='end' font-family="'Liberation Sans',sans-serif">M</text>
<g shape-rendering='crispEdges'>
<rect x='1617' y='578' width='2' height='1' fill='#000'/>
<rect x='1617' y='671' width='2' height='1' fill='#000'/>
<rect x='1617' y='746' width='2' height='1' fill='#000'/>
</g>
<text x='1620' y='587' font-size='10' fill='#000' textLength='27.00' lengthAdjust='spacingAndGlyphs' text-anchor='start' font-family="'Liberation Sans',sans-serif">2.5593</text>
<text x='1620' y='675' font-size='10' fill='#000' textLength='18.50' lengthAdjust='spacingAndGlyphs' text-anchor='start' font-family="'Liberation Sans',sans-serif">0.00</text>
<text x='1619.5' y='743' font-size='10' fill='#000' textLength='31.00' lengthAdjust='spacingAndGlyphs' text-anchor='start' font-family="'Liberation Sans',sans-serif">-2.0366</text>
<g clip-path='url(#rsi)' shape-rendering='crispEdges'>
<line x1='0' y1='784.5' x2='1616' y2='784.5' stroke='#c0c0c0' stroke-width='1' stroke-dasharray='3 3' stroke-dashoffset='-1'/>
<line x1='0' y1='835.5' x2='1616' y2='835.5' stroke='#c0c0c0' stroke-width='1' stroke-dasharray='3 3' stroke-dashoffset='-1'/>
<line x1='0' y1='896.5' x2='1616' y2='896.5' stroke='#c0c0c0' stroke-width='1' stroke-dasharray='3 3' stroke-dashoffset='-1'/>
</g>
<g clip-path='url(#rsi)'>
<polyline points='-3.5,817.0 4.5,826.0 12.5,842.2 20.5,856.3 28.5,864.3 36.5,860.8 44.5,865.4 52.5,851.5 60.5,858.4 68.5,866.0 76.5,867.7 84.5,870.2 92.5,851.0 100.5,848.0 108.5,838.2 116.5,830.5 124.5,831.4 132.5,827.8 140.5,835.5 148.5,840.4 156.5,838.0 164.5,826.0 172.5,822.4 180.5,821.6 188.5,818.1 196.5,824.7 204.5,819.9 212.5,809.5 220.5,808.1 228.5,807.7 236.5,804.2 244.5,823.2 252.5,821.9 260.5,819.2 268.5,806.6 276.5,800.3 284.5,802.1 292.5,805.6 300.5,804.2 308.5,799.0 316.5,812.1 324.5,823.7 332.5,815.6 340.5,819.6 348.5,815.0 356.5,812.6 364.5,839.7 372.5,843.1 380.5,858.5 388.5,846.2 396.5,848.8 404.5,855.2 412.5,844.1 420.5,838.4 428.5,838.0 436.5,840.9 444.5,835.6 452.5,832.6 460.5,833.1 468.5,830.5 476.5,831.7 484.5,832.7 492.5,829.7 500.5,825.6 508.5,829.1 516.5,834.3 524.5,832.9 532.5,839.1 540.5,839.1 548.5,841.3 556.5,831.3 564.5,837.6 572.5,835.3 580.5,831.2 588.5,827.6 596.5,830.5 604.5,827.5 612.5,843.7 620.5,831.3 628.5,832.5 636.5,830.4 644.5,827.9 652.5,827.9 660.5,806.5 668.5,811.5 676.5,810.4 684.5,809.8 692.5,809.2 700.5,818.5 708.5,811.3 716.5,806.9 724.5,808.5 732.5,805.1 740.5,802.7 748.5,804.5 756.5,805.0 764.5,802.0 772.5,801.1 780.5,792.8 788.5,789.3 796.5,785.1 804.5,792.4 812.5,818.3 820.5,835.1 828.5,836.3 836.5,836.5 844.5,822.1 852.5,834.0 860.5,827.5 868.5,838.6 876.5,850.7 884.5,851.9 892.5,852.5 900.5,857.3 908.5,823.2 916.5,821.2 924.5,819.9 932.5,826.6 940.5,833.7 948.5,829.0 956.5,816.8 964.5,809.0 972.5,809.2 980.5,809.4 988.5,814.0 996.5,816.1 1004.5,819.8 1012.5,823.9 1020.5,826.5 1028.5,822.1 1036.5,819.6 1044.5,822.0 1052.5,830.6 1060.5,821.1 1068.5,816.7 1076.5,823.2 1084.5,820.9 1092.5,818.0 1100.5,814.3 1108.5,807.0 1116.5,801.7 1124.5,808.5 1132.5,806.9 1140.5,815.7 1148.5,814.0 1156.5,815.2 1164.5,820.9 1172.5,821.4 1180.5,828.9 1188.5,828.3 1196.5,813.6 1204.5,843.3 1212.5,834.4 1220.5,836.8 1228.5,847.6 1236.5,846.7 1244.5,849.3 1252.5,848.9 1260.5,826.0 1268.5,827.6 1276.5,832.4 1284.5,830.6 1292.5,820.6 1300.5,827.4 1308.5,818.3 1316.5,848.8 1324.5,846.9 1332.5,843.7 1340.5,843.7 1348.5,847.7 1356.5,854.9 1364.5,863.3 1372.5,863.0' fill='none' stroke='#1e90ff' stroke-width='1' shape-rendering='crispEdges' />
</g>
<text x='-3' y='761' font-size='10' fill='#000' textLength='63.00' lengthAdjust='spacingAndGlyphs' text-anchor='start' font-family="'Liberation Sans',sans-serif">SI(14) 34.3097</text>
<text x='-3' y='761' font-size='10' fill='#000' textLength='7.00' lengthAdjust='spacingAndGlyphs' text-anchor='end' font-family="'Liberation Sans',sans-serif">R</text>
<g shape-rendering='crispEdges'>
<rect x='1617' y='750' width='2' height='1' fill='#000'/>
<rect x='1617' y='921' width='2' height='1' fill='#000'/>
</g>
<text x='1620' y='759' font-size='10' fill='#000' textLength='16.00' lengthAdjust='spacingAndGlyphs' text-anchor='start' font-family="'Liberation Sans',sans-serif">100</text>
<text x='1619' y='788' font-size='10' fill='#000' textLength='11.00' lengthAdjust='spacingAndGlyphs' text-anchor='start' font-family="'Liberation Sans',sans-serif">80</text>
<text x='1619' y='839' font-size='10' fill='#000' textLength='11.00' lengthAdjust='spacingAndGlyphs' text-anchor='start' font-family="'Liberation Sans',sans-serif">50</text>
<text x='1619' y='900' font-size='10' fill='#000' textLength='11.00' lengthAdjust='spacingAndGlyphs' text-anchor='start' font-family="'Liberation Sans',sans-serif">15</text>
<text x='1620' y='919.5' font-size='10' fill='#000' textLength='5.50' lengthAdjust='spacingAndGlyphs' text-anchor='start' font-family="'Liberation Sans',sans-serif">0</text>
<g shape-rendering='crispEdges'>
<rect x='52' y='923' width='1' height='3' fill='#000'/>
<rect x='116' y='923' width='1' height='3' fill='#000'/>
<rect x='180' y='923' width='1' height='3' fill='#000'/>
<rect x='244' y='923' width='1' height='3' fill='#000'/>
<rect x='308' y='923' width='1' height='3' fill='#000'/>
<rect x='372' y='923' width='1' height='3' fill='#000'/>
<rect x='436' y='923' width='1' height='3' fill='#000'/>
<rect x='500' y='923' width='1' height='3' fill='#000'/>
<rect x='564' y='923' width='1' height='3' fill='#000'/>
<rect x='628' y='923' width='1' height='3' fill='#000'/>
<rect x='692' y='923' width='1' height='3' fill='#000'/>
<rect x='756' y='923' width='1' height='3' fill='#000'/>
<rect x='820' y='923' width='1' height='3' fill='#000'/>
<rect x='884' y='923' width='1' height='3' fill='#000'/>
<rect x='948' y='923' width='1' height='3' fill='#000'/>
<rect x='1012' y='923' width='1' height='3' fill='#000'/>
<rect x='1076' y='923' width='1' height='3' fill='#000'/>
<rect x='1140' y='923' width='1' height='3' fill='#000'/>
<rect x='1204' y='923' width='1' height='3' fill='#000'/>
<rect x='1268' y='923' width='1' height='3' fill='#000'/>
<rect x='1332' y='923' width='1' height='3' fill='#000'/>
</g>
<text x='-13' y='935' font-size='10' fill='#000' textLength='48.86' lengthAdjust='spacingAndGlyphs' text-anchor='start' font-family="'Liberation Sans',sans-serif">9 May 2022</text>
<text x='51' y='935' font-size='10' fill='#000' textLength='56.65' lengthAdjust='spacingAndGlyphs' text-anchor='start' font-family="'Liberation Sans',sans-serif">10 May 04:00</text>
<text x='115' y='935' font-size='10' fill='#000' textLength='55.96' lengthAdjust='spacingAndGlyphs' text-anchor='start' font-family="'Liberation Sans',sans-serif">11 May 12:00</text>
<text x='179' y='935' font-size='10' fill='#000' textLength='56.65' lengthAdjust='spacingAndGlyphs' text-anchor='start' font-family="'Liberation Sans',sans-serif">12 May 20:00</text>
<text x='243' y='935' font-size='10' fill='#000' textLength='56.65' lengthAdjust='spacingAndGlyphs' text-anchor='start' font-family="'Liberation Sans',sans-serif">16 May 00:00</text>
<text x='307' y='935' font-size='10' fill='#000' textLength='56.65' lengthAdjust='spacingAndGlyphs' text-anchor='start' font-family="'Liberation Sans',sans-serif">17 May 08:00</text>
<text x='371' y='935' font-size='10' fill='#000' textLength='56.65' lengthAdjust='spacingAndGlyphs' text-anchor='start' font-family="'Liberation Sans',sans-serif">18 May 16:00</text>
<text x='435' y='935' font-size='10' fill='#000' textLength='56.65' lengthAdjust='spacingAndGlyphs' text-anchor='start' font-family="'Liberation Sans',sans-serif">20 May 00:00</text>
<text x='499' y='935' font-size='10' fill='#000' textLength='56.65' lengthAdjust='spacingAndGlyphs' text-anchor='start' font-family="'Liberation Sans',sans-serif">23 May 04:00</text>
<text x='563' y='935' font-size='10' fill='#000' textLength='56.65' lengthAdjust='spacingAndGlyphs' text-anchor='start' font-family="'Liberation Sans',sans-serif">24 May 12:00</text>
<text x='627' y='935' font-size='10' fill='#000' textLength='56.65' lengthAdjust='spacingAndGlyphs' text-anchor='start' font-family="'Liberation Sans',sans-serif">25 May 20:00</text>
<text x='691' y='935' font-size='10' fill='#000' textLength='56.65' lengthAdjust='spacingAndGlyphs' text-anchor='start' font-family="'Liberation Sans',sans-serif">27 May 04:00</text>
<text x='755' y='935' font-size='10' fill='#000' textLength='56.65' lengthAdjust='spacingAndGlyphs' text-anchor='start' font-family="'Liberation Sans',sans-serif">30 May 08:00</text>
<text x='819' y='935' font-size='10' fill='#000' textLength='56.65' lengthAdjust='spacingAndGlyphs' text-anchor='start' font-family="'Liberation Sans',sans-serif">31 May 16:00</text>
<text x='883' y='935' font-size='10' fill='#000' textLength='48.86' lengthAdjust='spacingAndGlyphs' text-anchor='start' font-family="'Liberation Sans',sans-serif">2 Jun 00:00</text>
<text x='947' y='935' font-size='10' fill='#000' textLength='48.86' lengthAdjust='spacingAndGlyphs' text-anchor='start' font-family="'Liberation Sans',sans-serif">3 Jun 08:00</text>
<text x='1011' y='935' font-size='10' fill='#000' textLength='48.86' lengthAdjust='spacingAndGlyphs' text-anchor='start' font-family="'Liberation Sans',sans-serif">6 Jun 12:00</text>
<text x='1075' y='935' font-size='10' fill='#000' textLength='48.86' lengthAdjust='spacingAndGlyphs' text-anchor='start' font-family="'Liberation Sans',sans-serif">7 Jun 20:00</text>
<text x='1139' y='935' font-size='10' fill='#000' textLength='48.86' lengthAdjust='spacingAndGlyphs' text-anchor='start' font-family="'Liberation Sans',sans-serif">9 Jun 04:00</text>
<text x='1203' y='935' font-size='10' fill='#000' textLength='54.06' lengthAdjust='spacingAndGlyphs' text-anchor='start' font-family="'Liberation Sans',sans-serif">10 Jun 12:00</text>
<text x='1267' y='935' font-size='10' fill='#000' textLength='54.06' lengthAdjust='spacingAndGlyphs' text-anchor='start' font-family="'Liberation Sans',sans-serif">13 Jun 16:00</text>
<text x='1331' y='935' font-size='10' fill='#000' textLength='54.06' lengthAdjust='spacingAndGlyphs' text-anchor='start' font-family="'Liberation Sans',sans-serif">15 Jun 00:00</text>
<line x1='1315.5' y1='79' x2='1388.1' y2='233.8' stroke='#ff0000' stroke-width='3.2' stroke-linecap='round'/>
<polygon points='1391.5,241 1382.7,234.1 1391.8,229.8' fill='#ff0000'/>
<line x1='1291.5' y1='655.5' x2='1372.6' y2='688.8' stroke='#ff0000' stroke-width='3.2' stroke-linecap='round'/>
<polygon points='1380,691.8 1368.9,692.6 1372.6,683.4' fill='#ff0000'/>
<line x1='1271' y1='829' x2='1370.5' y2='863.9' stroke='#ff0000' stroke-width='3.2' stroke-linecap='round'/>
<polygon points='1378,866.5 1366.9,867.9 1370.2,858.5' fill='#ff0000'/>
</svg></body></html>
